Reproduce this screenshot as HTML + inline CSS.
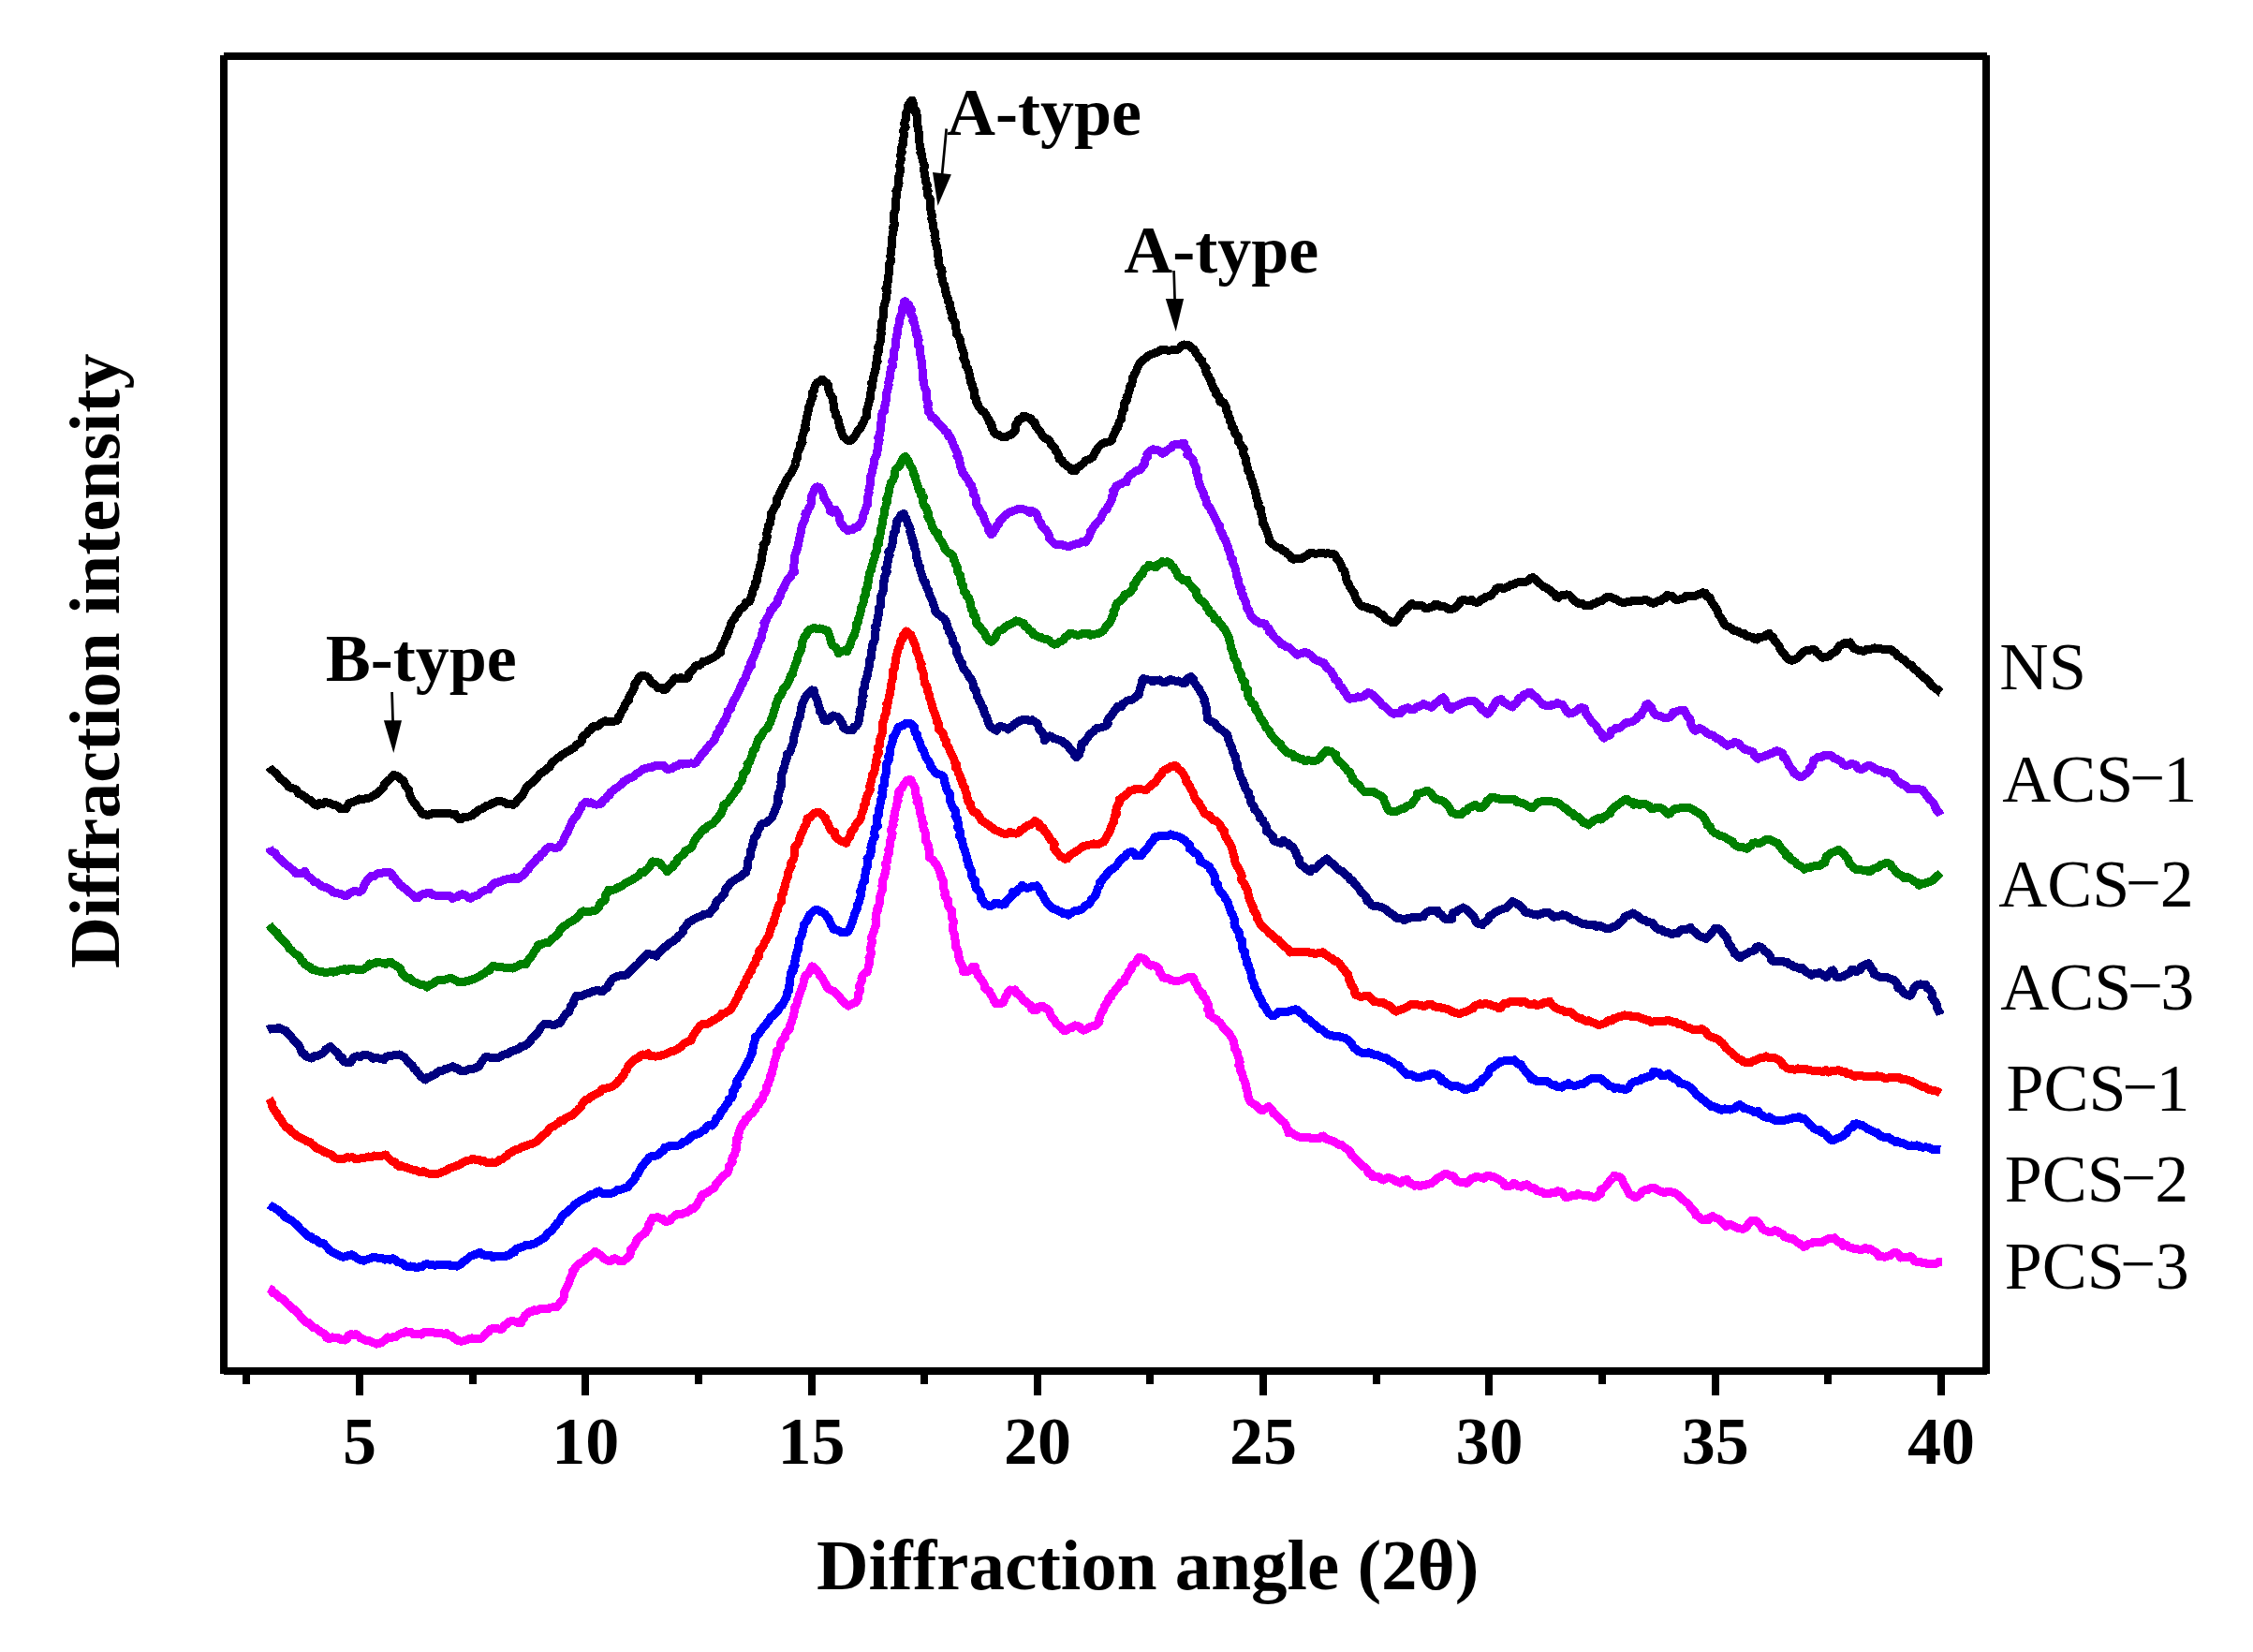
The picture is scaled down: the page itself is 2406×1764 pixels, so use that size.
<!DOCTYPE html>
<html lang="en"><head><meta charset="utf-8"><title>XRD diffraction patterns</title>
<style>
html,body{margin:0;padding:0;background:#fff;}
body{width:2406px;height:1764px;overflow:hidden;}
svg{display:block;}
.b{font-family:"Liberation Serif","Times New Roman",Times,serif;font-weight:bold;fill:#000;}
.r{font-family:"Liberation Serif","Times New Roman",Times,serif;font-weight:normal;fill:#000;}
.c{fill:none;stroke-width:9;stroke-linejoin:round;stroke-linecap:butt;}
</style></head><body>
<svg width="2406" height="1764" viewBox="0 0 2406 1764">
<rect x="0" y="0" width="2406" height="1764" fill="#ffffff"/>
<g id="curves" shape-rendering="crispEdges">
<polyline class="c" stroke="#000000" points="287.4,819.0 289.1,821.5 291.7,823.2 293.9,825.1 296.1,827.2 297.8,829.8 299.9,831.9 302.5,833.6 304.8,835.5 306.9,837.5 308.4,840.5 311.4,841.4 314.5,842.2 317.1,843.6 318.3,847.2 321.3,848.2 323.9,849.7 326.4,851.4 328.4,853.7 331.8,854.1 333.6,856.9 335.8,858.9 338.8,860.2 341.4,857.6 344.7,858.6 347.4,856.4 350.4,857.2 353.4,857.9 356.0,859.7 359.2,859.8 361.7,861.6 363.8,863.9 366.4,863.8 369.5,863.7 371.1,860.9 372.4,857.8 375.5,856.9 378.3,855.9 381.1,854.8 383.6,853.0 386.6,853.2 389.6,853.0 392.6,852.7 395.2,851.8 397.7,850.3 400.2,848.6 403.0,847.5 404.9,845.3 407.0,843.3 409.4,841.3 410.0,838.1 412.2,836.0 414.0,833.6 416.6,832.0 418.3,829.9 420.2,827.4 422.6,828.3 425.1,829.0 426.8,831.4 429.6,832.8 431.7,834.9 432.4,837.9 434.0,840.5 436.2,842.7 437.0,845.7 437.3,848.9 438.7,851.5 440.1,854.2 441.9,856.6 444.1,858.7 445.1,861.6 447.2,863.7 449.2,866.0 450.4,869.0 453.6,869.5 456.3,870.6 459.2,869.5 462.1,868.7 465.1,868.2 468.1,868.3 471.1,868.7 474.1,868.4 477.1,868.8 480.1,868.7 482.9,869.3 486.3,869.4 488.0,872.2 490.2,874.4 493.1,874.3 495.5,872.3 498.8,872.6 501.7,871.6 504.5,870.7 506.6,868.1 509.5,867.1 511.5,864.6 514.5,863.8 517.0,862.2 519.5,860.4 522.6,859.9 525.0,858.0 527.9,857.0 530.5,855.8 533.5,855.2 536.4,855.9 539.2,857.2 541.8,858.8 545.0,858.6 547.8,859.5 550.3,857.9 551.9,855.2 554.1,853.2 556.1,850.9 558.2,848.7 559.4,845.9 560.9,843.3 562.4,840.7 564.3,838.3 567.0,836.7 569.2,834.7 571.2,832.4 573.6,830.6 575.3,828.0 577.4,825.9 579.9,824.2 582.5,822.6 584.4,820.2 587.2,818.8 588.5,815.9 590.4,813.5 592.9,811.7 595.0,809.6 597.9,808.5 599.8,806.0 602.6,804.8 604.9,802.8 607.8,801.8 610.2,799.9 613.0,798.7 614.9,796.2 617.1,794.2 620.0,792.9 621.7,790.4 621.9,786.9 624.2,784.8 627.0,783.3 628.3,780.5 631.2,779.3 632.6,776.1 635.7,775.3 639.0,775.3 641.1,772.8 643.7,771.2 646.6,769.8 649.7,770.9 652.7,770.9 655.6,770.2 657.4,769.9 660.0,768.9 660.4,765.6 662.5,763.4 663.2,760.3 665.2,758.0 666.6,755.3 667.5,752.5 669.1,749.9 671.4,747.7 671.6,744.5 673.0,741.8 674.9,739.4 676.0,736.6 677.5,734.0 677.6,730.7 679.6,728.3 681.4,725.9 682.3,723.2 684.6,721.5 687.7,721.6 690.4,722.1 692.6,723.8 694.3,726.3 695.7,729.1 698.5,730.5 700.9,732.3 702.9,734.8 706.5,734.5 708.4,736.5 711.4,736.0 712.9,733.2 714.7,730.8 717.3,729.2 718.9,726.4 720.9,723.9 724.6,724.4 726.9,723.7 729.5,724.5 732.4,725.0 735.1,723.5 735.0,719.8 737.4,717.8 739.6,715.7 741.2,713.3 743.1,710.8 746.7,710.9 748.9,708.8 750.9,706.2 754.3,706.0 756.8,704.4 759.6,703.2 762.2,701.8 764.7,700.2 766.7,697.8 769.8,696.6 769.4,693.1 770.7,690.4 771.9,687.6 773.6,685.1 774.2,682.1 776.2,679.6 776.6,676.6 778.5,674.1 778.8,671.0 780.4,668.4 780.7,665.2 782.5,662.8 784.6,660.5 785.5,657.6 787.7,655.4 789.1,652.8 790.6,650.0 793.7,648.8 795.4,646.3 796.5,643.3 800.3,642.6 801.7,639.8 802.2,636.7 803.4,633.9 803.9,630.9 804.9,628.1 806.9,625.6 806.4,622.4 808.8,619.9 808.4,616.7 809.6,613.9 809.8,610.9 810.8,608.0 811.5,605.1 812.2,602.2 813.1,599.3 813.6,596.4 813.4,593.2 815.0,590.5 814.7,587.4 816.0,584.6 815.0,581.3 818.2,578.9 818.0,575.8 819.3,573.0 818.6,569.8 819.3,566.9 820.3,564.1 820.7,561.1 822.8,558.5 822.7,555.4 823.7,552.5 823.1,549.3 824.5,546.6 826.2,544.0 827.5,541.3 829.3,538.8 829.5,535.6 829.8,532.5 832.0,530.2 832.5,527.2 834.1,524.6 835.0,521.7 836.7,519.2 838.3,516.7 838.9,513.6 840.9,511.2 842.1,508.4 844.2,506.2 845.6,503.6 847.0,501.0 848.3,498.2 849.5,495.5 849.6,492.3 851.2,489.7 851.6,486.7 852.0,483.7 853.0,480.9 854.4,478.1 854.2,474.9 857.1,472.7 856.8,469.4 856.8,466.3 857.8,463.5 858.3,460.5 860.4,458.0 859.6,454.8 860.7,451.9 860.8,448.9 861.5,446.0 862.1,443.0 862.8,440.1 863.8,437.2 863.8,434.2 865.4,431.5 865.6,428.5 867.1,425.8 868.2,423.0 867.1,419.5 869.3,417.1 869.9,414.1 870.8,411.3 872.5,408.8 875.4,407.4 877.4,405.5 878.9,405.2 880.2,407.4 883.0,409.1 884.6,411.6 884.7,414.9 885.6,417.7 886.4,420.6 888.2,423.2 889.7,425.9 889.5,429.1 890.4,431.9 890.3,435.1 890.8,438.0 892.4,440.7 892.6,443.8 894.6,446.3 895.7,449.1 896.0,452.2 896.0,455.3 897.9,457.9 898.4,460.8 899.4,463.7 900.6,466.4 902.6,468.0 904.6,469.9 907.4,470.6 909.5,469.7 911.3,467.8 913.1,465.4 914.6,462.8 916.0,460.2 918.3,458.1 919.7,455.4 920.9,452.6 922.6,450.2 923.2,447.4 925.6,444.9 925.0,441.7 925.0,438.7 926.6,435.9 927.0,432.9 927.9,430.1 928.6,427.1 929.8,424.3 929.5,421.2 930.0,418.2 930.3,415.3 931.6,412.4 930.6,409.2 932.4,406.5 932.8,403.5 933.1,400.5 934.3,397.7 934.6,394.7 936.0,391.9 935.1,388.7 937.1,386.0 936.3,382.8 937.0,379.9 937.5,376.9 938.7,374.1 937.6,370.8 938.8,368.0 940.2,365.2 940.0,362.1 940.2,359.1 941.3,356.3 940.6,353.1 941.9,350.3 942.0,347.3 941.4,344.2 942.9,341.3 943.2,338.3 943.5,335.4 943.6,332.4 943.5,329.3 944.2,326.4 945.1,323.5 946.1,320.6 946.5,317.6 946.6,314.6 947.7,311.7 945.9,308.4 947.7,305.7 947.5,302.6 948.5,299.7 948.5,296.7 948.9,293.7 949.5,290.8 949.4,287.7 949.5,284.7 949.7,281.7 951.5,278.9 951.1,275.9 950.9,272.8 951.8,269.9 951.2,266.8 952.2,263.9 952.2,260.9 953.0,257.9 952.7,254.9 953.0,251.9 953.0,248.9 954.2,246.0 953.7,242.9 955.3,240.1 955.0,237.0 954.3,234.0 954.6,231.0 954.5,227.9 956.0,225.1 956.2,222.1 956.5,219.1 957.0,216.1 956.8,213.1 957.2,210.1 957.6,207.2 956.9,204.1 958.7,201.2 959.2,198.3 960.1,195.4 959.2,192.2 959.6,189.3 960.7,186.4 961.3,183.4 961.4,180.4 960.8,177.3 961.1,174.3 962.1,171.4 962.1,168.4 961.7,165.4 963.2,162.5 962.6,159.4 962.9,156.4 964.7,153.6 963.9,150.5 964.7,147.6 965.7,144.7 965.0,141.6 964.9,138.5 967.1,135.8 965.7,132.6 966.2,129.6 967.4,126.7 967.3,123.7 967.6,120.7 969.0,118.0 969.9,115.1 969.9,112.0 971.8,109.5 973.3,107.6 974.1,107.0 975.1,109.5 975.5,112.5 976.1,115.5 978.1,118.0 977.9,121.1 979.4,123.9 979.2,127.0 979.3,130.0 979.1,133.0 980.4,135.9 980.9,138.8 981.1,141.8 981.5,144.8 981.9,147.8 981.8,150.8 982.1,153.8 982.3,156.8 983.3,159.7 982.9,162.8 984.7,165.6 984.8,168.6 985.3,171.5 986.4,174.4 987.7,177.2 986.4,180.5 986.9,183.4 987.8,186.3 987.9,189.4 988.8,192.3 988.9,195.3 990.5,198.0 989.5,201.3 991.1,204.0 990.1,207.2 991.7,210.0 993.3,212.8 993.3,215.8 993.0,218.9 993.6,221.8 994.0,224.8 994.5,227.8 995.6,230.7 994.7,233.8 995.8,236.7 996.7,239.6 996.7,242.6 997.2,245.6 998.8,248.4 997.9,251.5 999.1,254.4 998.9,257.5 999.3,260.4 1000.4,263.3 1000.9,266.2 1001.5,269.2 1001.4,272.3 1002.2,275.2 1002.0,278.2 1002.4,281.2 1003.1,284.1 1005.3,286.8 1006.1,289.7 1004.9,293.0 1005.9,295.8 1006.7,298.7 1007.0,301.7 1008.5,304.5 1009.2,307.3 1009.4,310.4 1010.6,313.2 1011.0,316.2 1012.5,318.9 1012.7,321.9 1014.6,324.5 1014.0,327.8 1015.6,330.5 1015.8,333.5 1017.8,336.1 1016.8,339.5 1018.5,342.1 1020.3,344.7 1020.1,347.9 1020.9,350.8 1021.3,353.8 1021.6,356.8 1023.8,359.3 1025.0,362.1 1025.9,365.0 1026.1,368.0 1027.0,370.9 1027.8,373.8 1029.1,376.5 1029.2,379.6 1028.9,382.8 1030.5,385.5 1031.9,388.2 1031.8,391.4 1034.0,393.9 1034.5,396.8 1035.2,399.7 1035.3,402.8 1036.6,405.6 1036.8,408.7 1038.8,411.2 1038.7,414.3 1040.7,416.9 1040.3,420.1 1040.3,423.2 1042.5,425.7 1042.5,428.9 1044.2,431.5 1044.9,434.4 1046.9,436.3 1048.8,438.7 1051.3,440.4 1053.0,442.8 1054.0,445.6 1056.1,448.0 1056.5,451.0 1059.1,453.2 1058.9,456.5 1060.5,459.1 1061.3,461.9 1063.6,463.7 1066.6,464.4 1069.0,466.2 1071.8,466.6 1074.7,466.6 1077.2,464.9 1080.2,464.2 1082.2,461.9 1084.3,459.5 1084.1,456.1 1084.9,453.2 1087.0,450.9 1087.8,447.7 1091.2,447.1 1092.8,444.1 1095.8,444.9 1097.9,446.1 1101.0,446.8 1102.5,449.5 1105.2,451.0 1105.7,454.1 1107.2,456.7 1109.3,459.0 1111.1,461.4 1112.3,464.0 1114.0,466.3 1116.4,468.1 1119.4,469.1 1121.4,471.4 1122.4,474.6 1124.8,476.4 1126.9,478.6 1127.4,481.7 1129.7,483.9 1130.8,486.8 1131.0,490.0 1134.3,491.4 1135.1,494.6 1138.0,495.8 1140.0,498.1 1142.7,499.6 1144.3,502.3 1146.9,502.9 1148.8,502.5 1149.7,499.6 1152.6,498.2 1155.0,496.3 1157.2,494.6 1159.1,491.9 1162.0,490.9 1164.8,489.8 1167.0,487.8 1168.4,485.4 1169.6,482.7 1171.6,480.2 1172.8,477.7 1174.5,475.9 1176.7,473.9 1179.5,472.8 1182.4,472.1 1185.3,471.6 1187.8,469.9 1188.2,466.7 1189.6,464.0 1190.9,461.3 1191.7,458.4 1193.9,456.1 1194.6,453.1 1195.3,450.2 1197.5,447.8 1197.8,444.7 1198.2,441.7 1199.1,438.8 1200.8,436.2 1201.0,433.1 1200.8,430.0 1203.3,427.6 1202.9,424.3 1205.0,421.8 1205.1,418.7 1206.4,416.0 1206.4,412.8 1208.6,410.4 1209.3,407.4 1209.0,404.2 1210.9,401.7 1211.8,398.8 1213.5,396.3 1214.4,393.4 1215.7,390.7 1217.0,388.0 1218.9,385.6 1221.4,383.9 1223.7,382.1 1226.0,380.0 1228.6,378.6 1231.5,377.7 1234.2,376.5 1237.0,375.7 1239.5,373.5 1242.7,373.7 1245.6,373.9 1248.5,374.3 1251.5,373.7 1254.4,373.4 1257.3,373.3 1259.9,371.8 1261.8,369.3 1264.6,368.0 1267.4,368.9 1270.5,368.9 1272.4,371.5 1274.9,373.0 1276.5,375.4 1277.7,378.3 1280.0,380.3 1280.7,383.4 1283.8,385.0 1284.1,388.3 1285.8,390.7 1288.1,393.0 1287.7,396.5 1288.8,399.3 1290.7,401.7 1291.9,404.5 1293.5,407.0 1294.0,410.1 1295.2,412.8 1296.3,415.6 1298.7,417.9 1298.5,421.2 1301.4,423.1 1302.3,425.9 1303.0,429.3 1306.7,429.9 1308.4,432.4 1309.4,435.3 1309.5,438.4 1311.3,440.9 1311.7,443.9 1313.5,446.5 1313.3,449.7 1315.3,452.2 1315.4,455.4 1318.0,457.6 1318.0,460.8 1319.4,463.5 1321.8,465.8 1322.9,468.5 1322.6,471.9 1324.8,474.2 1325.6,477.2 1328.2,479.3 1327.2,482.8 1328.3,485.6 1329.6,488.4 1330.8,491.2 1330.7,494.3 1331.9,497.1 1332.2,500.1 1332.9,503.0 1334.9,505.5 1335.2,508.6 1336.2,511.4 1337.7,514.1 1337.9,517.2 1339.2,519.9 1340.1,522.8 1340.4,525.8 1341.5,528.6 1341.9,531.6 1342.9,534.5 1344.1,537.2 1343.6,540.5 1346.4,542.8 1346.5,545.9 1346.9,548.9 1347.9,551.7 1348.4,554.7 1348.1,557.9 1350.2,560.5 1351.2,563.3 1352.4,566.0 1353.4,568.9 1354.4,571.7 1355.3,574.6 1355.5,577.7 1357.5,579.8 1359.8,581.4 1362.1,583.5 1364.7,585.0 1368.0,585.3 1369.9,588.0 1372.9,589.0 1374.7,591.5 1377.5,592.9 1378.8,595.9 1381.6,597.4 1384.7,596.3 1387.7,596.3 1390.7,596.4 1393.0,594.3 1395.7,593.1 1398.0,591.0 1400.9,590.2 1403.9,591.1 1406.9,591.0 1409.9,590.7 1412.9,590.9 1415.9,591.1 1418.8,590.7 1421.6,591.8 1424.4,591.6 1426.6,593.7 1427.6,596.8 1429.7,598.9 1431.2,601.3 1432.5,604.0 1433.1,607.0 1435.9,609.2 1436.3,612.2 1437.2,615.0 1437.8,618.0 1438.4,621.1 1440.4,623.4 1441.3,626.3 1442.8,628.9 1444.6,631.3 1446.5,633.8 1447.1,636.8 1448.1,639.6 1449.9,642.1 1451.2,644.9 1453.7,646.8 1456.5,647.9 1459.6,648.3 1462.2,649.9 1465.2,650.4 1468.1,651.2 1470.9,652.3 1472.7,655.0 1475.7,656.0 1478.1,657.8 1479.6,660.8 1482.3,662.2 1485.0,663.6 1487.2,665.0 1489.9,664.7 1491.6,662.2 1493.7,660.0 1494.8,657.1 1496.8,654.8 1498.5,652.3 1501.5,651.1 1503.3,648.6 1505.3,646.4 1507.8,644.5 1510.8,646.6 1513.8,646.2 1516.8,646.3 1519.7,647.2 1521.9,649.6 1524.8,649.7 1527.1,648.4 1530.1,647.8 1532.2,645.4 1535.2,645.6 1537.8,647.5 1541.0,647.2 1543.8,648.3 1546.3,650.3 1549.3,651.0 1551.9,649.8 1554.6,648.9 1556.2,646.3 1558.8,644.6 1559.7,641.3 1562.8,640.6 1565.4,641.0 1568.3,641.6 1571.7,640.4 1574.1,642.7 1576.9,643.3 1579.8,642.9 1581.6,640.2 1584.5,639.2 1586.9,637.2 1590.0,636.8 1592.7,635.7 1594.1,633.2 1596.6,631.3 1597.8,628.5 1600.4,627.3 1603.0,627.5 1605.9,628.8 1608.9,627.1 1611.4,626.2 1613.5,624.2 1616.9,624.0 1619.2,622.1 1622.1,621.7 1625.0,621.9 1627.8,621.7 1630.3,621.0 1632.8,619.4 1634.7,617.2 1636.9,616.6 1639.0,618.0 1640.9,620.3 1643.2,622.2 1645.6,624.0 1647.6,626.2 1650.6,627.2 1653.0,628.9 1655.6,630.5 1657.6,632.7 1660.4,634.2 1661.6,637.3 1664.3,638.2 1666.6,635.8 1669.7,635.9 1672.5,634.9 1675.5,635.1 1677.7,637.1 1679.5,639.6 1681.4,641.9 1684.1,643.2 1686.7,645.0 1690.0,644.6 1692.5,646.7 1695.7,647.0 1698.7,646.5 1701.4,644.8 1704.2,643.9 1706.8,642.3 1710.0,641.9 1712.4,640.1 1714.8,638.1 1717.7,637.1 1720.7,637.8 1723.1,639.2 1726.1,639.9 1728.5,641.7 1731.3,643.0 1734.4,643.6 1737.4,642.8 1740.4,642.9 1743.3,641.6 1746.3,641.7 1749.4,641.9 1752.4,641.8 1755.2,640.7 1758.0,640.7 1760.5,641.8 1762.9,643.4 1765.3,644.2 1767.9,643.5 1770.4,641.8 1773.6,641.6 1775.5,638.9 1778.9,638.6 1780.5,635.4 1783.2,636.4 1786.4,636.7 1788.1,639.5 1790.5,640.9 1792.8,640.2 1795.6,639.7 1798.4,638.7 1800.7,636.1 1803.9,636.6 1806.8,636.2 1810.0,636.4 1812.7,635.0 1815.7,634.4 1818.2,632.7 1821.2,633.2 1822.1,636.5 1825.6,637.6 1826.9,640.3 1827.9,643.4 1829.9,645.6 1831.6,648.1 1833.2,650.7 1834.5,653.4 1835.1,656.5 1837.3,658.7 1838.8,661.3 1840.3,663.9 1841.3,666.7 1843.7,668.3 1846.6,669.4 1849.1,671.1 1851.3,673.2 1854.4,673.5 1857.1,674.8 1859.8,676.3 1863.0,676.4 1865.0,679.1 1868.0,679.7 1871.1,680.2 1873.3,682.1 1876.4,683.0 1878.9,680.0 1881.7,680.1 1884.7,679.6 1886.8,677.5 1889.3,676.3 1890.5,679.1 1893.6,680.3 1894.6,683.4 1896.4,685.7 1898.5,687.9 1900.3,690.4 1900.9,693.5 1903.0,695.7 1905.2,697.9 1906.7,700.5 1908.7,702.6 1910.8,704.4 1913.5,705.2 1915.6,704.7 1918.0,703.5 1920.6,701.9 1922.5,699.5 1924.7,697.5 1926.9,695.5 1929.5,694.2 1932.1,694.4 1935.1,693.6 1938.2,693.8 1939.8,696.6 1942.1,698.3 1944.1,700.6 1946.3,702.3 1948.3,701.6 1951.1,701.4 1954.1,700.6 1955.9,697.8 1958.7,696.7 1961.3,694.9 1962.7,692.1 1964.4,689.5 1967.3,688.3 1969.6,686.8 1972.5,687.1 1975.9,686.0 1977.5,689.6 1979.3,692.0 1982.2,693.2 1985.0,694.4 1987.4,694.8 1990.4,695.3 1993.1,693.7 1996.0,693.0 1999.1,693.0 2002.1,691.9 2005.0,693.0 2008.1,692.4 2011.0,693.6 2014.0,693.5 2017.0,693.6 2019.9,693.7 2021.9,695.9 2024.7,697.2 2026.0,700.3 2028.9,701.6 2031.2,703.5 2034.2,704.6 2035.8,707.3 2037.9,709.5 2041.3,710.2 2043.0,712.8 2045.0,715.0 2047.7,716.5 2049.4,719.1 2051.9,720.7 2053.7,723.2 2056.6,724.5 2058.6,726.8 2060.8,728.9 2062.1,731.8 2064.9,733.3 2067.0,735.4 2070.0,736.5 2071.7,739.2 2072.2,739.4"/>
<polyline class="c" stroke="#8000ff" points="287.4,905.0 288.6,907.9 291.2,909.6 294.1,911.0 295.5,913.8 297.5,916.0 300.2,917.6 301.9,920.1 304.3,922.0 306.5,924.0 309.1,925.6 311.2,927.7 313.6,929.5 315.4,932.1 318.0,933.0 320.4,932.8 323.3,932.4 325.7,930.3 327.1,933.3 328.9,935.6 331.5,937.3 333.8,939.3 335.6,941.6 338.5,942.2 340.9,944.3 343.3,946.3 346.1,947.1 349.1,947.9 351.7,949.2 354.1,951.1 356.4,953.1 359.6,953.6 362.4,954.3 365.3,955.0 368.0,956.6 370.8,956.2 372.8,954.1 375.5,952.7 378.3,951.5 381.3,952.0 384.0,952.4 386.4,950.6 388.1,948.1 389.0,945.1 390.5,942.5 392.1,939.9 394.4,938.1 396.3,935.6 399.6,935.8 402.0,933.6 404.7,932.4 407.8,932.1 410.7,931.5 413.3,931.5 415.9,931.2 418.3,932.9 419.2,936.2 422.0,937.7 423.3,940.5 425.8,942.3 427.2,945.1 429.9,946.7 432.1,948.7 434.8,950.3 436.7,952.6 438.9,954.4 441.3,956.0 443.2,958.9 446.3,958.7 448.5,956.4 451.0,954.9 454.2,954.4 456.5,953.1 459.2,953.2 461.5,955.2 464.5,956.0 466.8,956.6 469.4,956.9 472.5,956.8 475.2,956.6 478.2,956.3 481.1,957.0 483.4,959.4 486.0,958.1 488.9,957.4 491.0,955.3 493.4,954.7 495.9,955.7 498.6,957.0 500.8,959.0 503.4,959.2 505.5,957.2 508.5,956.4 511.3,955.3 513.4,952.9 516.1,951.6 518.7,950.1 522.1,949.8 523.9,947.1 526.2,945.0 528.4,942.7 531.5,942.2 534.3,941.2 537.0,939.8 540.0,939.1 542.8,938.2 545.8,938.4 548.7,936.9 551.2,939.0 553.8,938.3 555.4,936.6 557.9,935.0 560.5,933.2 561.7,930.3 564.3,928.5 565.3,925.5 567.6,923.5 569.7,921.3 572.0,919.4 573.1,916.2 576.6,915.5 577.6,912.3 580.5,910.9 581.8,908.1 584.1,906.2 586.2,904.4 588.9,904.5 591.7,905.4 594.3,905.5 596.9,904.3 598.6,901.7 600.9,899.7 601.9,896.9 602.9,894.1 604.1,891.3 606.1,888.9 607.2,886.1 608.4,883.4 609.6,880.7 610.5,877.7 612.5,875.4 613.9,872.8 616.2,870.7 617.6,868.0 618.6,865.1 620.7,862.9 621.5,859.8 623.8,857.8 625.7,856.1 628.3,857.3 631.5,856.9 634.1,858.8 637.1,859.1 639.8,858.9 642.6,857.8 643.7,854.7 646.6,853.3 648.2,850.6 650.9,849.1 652.0,846.0 654.5,844.2 656.8,842.3 659.6,840.9 661.8,838.8 664.2,837.1 665.9,834.4 668.7,833.1 671.1,831.3 674.0,830.3 676.8,829.1 678.8,826.7 681.6,825.4 684.0,823.6 686.3,821.6 689.1,820.7 692.0,819.8 695.1,819.9 697.8,818.3 700.6,817.2 703.6,817.2 706.0,817.0 709.0,817.5 710.7,820.1 712.8,821.6 715.4,821.1 718.3,820.2 720.7,818.4 723.6,817.6 726.1,815.5 729.3,816.1 732.2,815.4 735.2,815.2 738.2,814.9 741.1,815.3 743.4,814.4 745.0,812.2 746.6,809.7 748.4,807.3 749.9,804.7 752.3,802.8 753.9,800.2 756.0,798.1 757.6,795.5 759.9,793.6 761.9,791.4 763.6,788.9 764.5,786.0 765.4,783.1 768.1,781.1 768.3,777.8 770.2,775.4 771.9,773.0 773.1,770.2 774.9,767.8 776.1,765.0 777.0,762.1 777.3,758.9 780.5,757.1 780.9,753.9 782.4,751.3 783.1,748.4 785.0,745.9 786.5,743.3 787.9,740.7 789.0,737.9 790.4,735.2 791.2,732.3 793.1,729.9 793.6,726.8 796.1,724.6 796.6,721.6 797.7,718.8 799.1,716.1 799.4,713.0 802.6,711.1 801.8,707.5 803.1,704.8 804.4,702.1 805.8,699.4 806.7,696.5 807.8,693.8 809.2,691.1 809.6,688.0 810.6,685.2 812.5,682.7 813.5,679.9 813.8,676.8 814.3,673.8 815.8,671.1 816.4,668.2 815.8,664.8 818.3,662.5 819.1,659.6 821.0,657.1 822.3,654.6 822.8,651.4 825.6,649.6 826.8,646.8 829.6,644.9 830.7,642.0 830.9,638.8 833.2,636.6 833.7,633.4 834.8,630.7 836.8,628.3 837.9,625.5 839.2,622.8 840.4,620.0 842.2,617.6 844.6,615.6 845.6,612.7 848.7,610.5 847.0,607.0 847.8,604.1 848.1,601.1 848.2,598.1 848.2,595.0 849.1,592.1 850.4,589.3 851.2,586.4 852.1,583.6 852.8,580.6 853.1,577.6 853.7,574.7 854.3,571.8 855.1,568.9 855.6,565.9 856.1,562.9 857.0,560.0 858.5,557.4 859.5,554.5 860.2,551.6 859.9,548.3 862.7,546.1 863.2,543.1 865.4,540.7 866.2,537.8 866.0,534.6 866.7,531.7 866.9,528.6 868.7,526.0 869.3,523.1 870.8,520.6 872.9,519.8 875.4,520.5 877.0,523.1 878.3,525.8 879.5,528.6 879.7,531.8 881.8,534.2 883.2,536.8 885.0,539.3 885.9,542.2 886.4,545.3 888.6,547.1 890.5,545.7 891.9,544.1 892.6,545.1 894.1,547.5 895.8,550.1 896.6,552.9 896.8,556.0 897.8,558.8 899.9,561.1 901.5,563.6 904.1,565.3 905.8,566.7 907.3,566.0 910.5,565.6 912.6,563.4 915.9,562.9 917.7,560.2 919.7,558.0 920.9,555.3 921.6,552.4 921.9,549.4 923.5,546.7 924.2,543.8 925.1,540.9 926.7,538.2 926.3,535.0 926.3,532.0 927.2,529.1 928.1,526.2 927.9,523.1 928.6,520.2 929.2,517.3 929.4,514.3 930.0,511.3 929.9,508.3 931.1,505.4 931.5,502.5 932.2,499.5 933.0,496.6 933.5,493.7 933.7,490.6 935.2,487.9 936.3,485.1 936.4,482.0 937.8,479.2 937.1,476.1 938.4,473.3 939.1,470.3 937.7,467.1 939.6,464.3 939.9,461.3 940.5,458.4 940.6,455.4 940.5,452.3 941.9,449.5 941.6,446.4 941.6,443.4 942.2,440.4 944.9,438.0 944.2,434.7 945.7,432.0 945.8,429.0 946.6,426.0 947.0,423.1 946.5,419.9 947.8,417.1 948.3,414.2 949.1,411.3 948.9,408.2 949.4,405.2 950.5,402.4 950.5,399.3 951.1,396.4 951.2,393.3 953.8,390.7 953.0,387.6 952.9,384.5 955.0,381.8 954.3,378.7 954.5,375.6 955.5,372.8 956.7,369.9 956.4,366.8 956.2,363.8 957.2,360.9 957.6,357.9 959.0,355.1 958.3,352.0 959.1,349.0 960.2,346.2 960.2,343.1 960.7,340.2 962.0,337.4 963.1,334.6 963.5,331.6 963.8,328.6 965.1,325.8 965.0,323.1 966.6,321.6 967.6,324.9 970.9,325.4 971.2,328.5 973.6,330.8 972.3,334.2 973.7,336.9 975.3,339.6 974.8,342.8 976.6,345.5 977.2,348.4 977.4,351.5 979.1,354.2 978.8,357.3 980.5,360.0 981.1,363.0 980.6,366.1 980.7,369.1 982.7,371.8 982.7,374.9 982.4,377.9 983.4,380.8 983.9,383.8 984.8,386.7 984.6,389.7 984.8,392.7 985.3,395.7 985.7,398.7 985.3,401.7 985.6,404.7 986.6,407.6 986.9,410.6 987.1,413.6 989.0,416.4 989.3,419.4 989.3,422.4 989.6,425.4 990.1,428.3 991.7,431.1 990.6,434.3 991.6,437.2 991.7,440.2 993.7,442.4 994.8,445.5 998.0,446.6 999.8,449.0 1001.4,451.6 1003.7,453.6 1005.5,455.9 1007.8,457.9 1009.5,460.4 1012.1,462.1 1012.6,465.6 1015.3,467.2 1016.3,470.0 1017.4,472.8 1018.3,475.7 1020.0,478.2 1020.8,481.1 1022.6,483.7 1021.9,487.0 1024.3,489.4 1024.3,492.5 1025.7,495.3 1025.8,498.4 1027.1,501.1 1027.5,504.2 1029.7,506.5 1031.2,509.1 1032.9,511.4 1034.4,513.9 1035.5,516.8 1037.8,518.8 1038.3,521.8 1040.0,524.4 1039.2,527.8 1041.6,530.2 1042.6,533.0 1042.5,536.2 1042.9,539.3 1044.9,541.8 1046.2,544.5 1047.0,547.4 1049.8,549.4 1050.3,552.4 1051.5,555.2 1052.3,558.1 1054.1,560.6 1055.7,563.2 1055.5,566.5 1057.6,568.8 1058.5,570.8 1060.3,569.5 1061.2,566.6 1063.4,564.5 1064.3,561.4 1066.6,559.4 1067.4,556.3 1069.9,554.4 1071.5,551.9 1074.0,550.0 1076.0,548.4 1078.4,546.8 1081.2,545.9 1084.0,544.8 1086.7,543.6 1089.7,543.2 1092.3,543.7 1095.2,544.5 1097.7,545.6 1099.8,547.6 1102.2,545.4 1104.5,546.9 1106.7,548.1 1108.0,550.8 1108.4,553.9 1109.9,556.5 1111.9,558.8 1112.5,562.0 1114.7,564.1 1117.0,566.1 1118.7,568.6 1120.3,571.2 1120.4,574.6 1122.4,576.9 1124.6,579.1 1126.7,581.1 1129.5,582.0 1132.6,581.2 1135.5,582.3 1138.5,583.1 1141.7,583.5 1144.6,582.4 1147.4,581.3 1150.3,580.4 1153.3,580.0 1155.9,578.3 1159.3,579.0 1160.8,576.3 1162.6,573.9 1164.0,571.2 1164.0,567.9 1166.3,565.6 1167.7,563.0 1169.4,560.6 1171.2,558.2 1173.5,556.2 1175.5,553.9 1176.4,550.9 1177.9,548.3 1179.5,545.8 1182.0,543.8 1183.1,540.9 1184.8,538.5 1186.2,535.8 1187.5,533.1 1187.6,530.0 1189.5,527.4 1188.5,524.0 1191.3,521.8 1191.9,519.0 1194.4,517.6 1197.2,516.8 1199.5,515.0 1203.0,514.8 1203.6,511.4 1205.3,509.0 1207.5,506.9 1210.1,505.4 1212.2,503.2 1215.2,502.3 1218.2,501.5 1219.7,498.5 1221.6,496.5 1223.0,493.9 1222.8,490.6 1225.4,488.3 1224.9,484.9 1226.9,482.6 1228.9,480.8 1231.6,479.8 1234.6,480.7 1236.9,480.9 1239.6,482.0 1241.4,484.2 1243.9,483.1 1245.8,481.0 1248.4,479.4 1250.9,477.9 1252.9,475.0 1256.1,474.9 1259.1,474.7 1261.7,473.6 1264.8,473.4 1264.5,477.1 1267.0,479.2 1268.9,481.6 1267.8,485.6 1270.9,487.3 1273.0,489.5 1274.5,492.0 1274.8,495.0 1276.2,497.7 1277.5,500.5 1277.7,503.5 1278.1,506.5 1279.9,509.2 1279.9,512.3 1280.4,515.3 1281.3,518.1 1282.6,520.9 1284.0,523.6 1285.2,526.3 1285.5,529.4 1287.3,531.9 1288.1,534.8 1288.6,537.9 1290.4,540.3 1292.4,542.6 1293.4,545.5 1295.2,548.0 1296.2,550.8 1297.7,553.4 1299.2,556.0 1300.2,558.9 1302.5,561.1 1302.2,564.6 1303.6,567.3 1305.5,569.7 1306.0,572.7 1307.9,575.2 1309.1,577.9 1310.1,580.8 1311.2,583.6 1311.7,586.6 1313.2,589.2 1313.9,592.1 1314.2,595.2 1316.8,597.5 1316.5,600.7 1317.8,603.5 1318.9,606.3 1319.7,609.2 1320.2,612.1 1320.6,615.1 1322.0,617.9 1322.6,620.8 1323.0,623.8 1323.6,626.7 1326.1,629.1 1325.4,632.5 1327.3,635.0 1327.7,638.0 1329.3,640.6 1330.5,643.4 1331.1,646.4 1331.6,649.4 1333.7,651.8 1334.7,654.6 1335.7,657.7 1338.1,659.7 1339.8,662.2 1342.7,663.6 1345.2,665.6 1348.5,665.3 1351.4,666.3 1352.4,669.3 1355.1,671.1 1355.4,674.5 1358.3,676.2 1359.6,678.9 1361.7,681.1 1363.9,683.2 1366.4,684.8 1367.8,687.8 1370.9,688.6 1373.3,690.5 1376.4,691.1 1378.7,693.2 1380.8,695.4 1383.2,697.1 1385.3,699.3 1387.9,698.2 1390.7,697.5 1393.5,696.5 1395.9,697.1 1398.2,698.6 1400.8,700.2 1402.6,702.7 1405.0,704.6 1407.9,705.7 1410.6,707.0 1413.6,707.8 1415.5,710.3 1416.5,713.1 1419.2,714.7 1421.5,716.8 1422.9,719.5 1424.5,722.0 1425.4,725.1 1427.8,727.1 1429.9,729.2 1430.3,732.6 1433.3,734.2 1434.7,736.8 1436.0,739.5 1438.1,741.8 1439.3,744.4 1441.2,746.3 1444.0,745.7 1447.0,745.4 1449.7,743.9 1452.9,744.3 1455.9,743.7 1458.3,741.7 1460.8,739.8 1463.8,740.2 1466.0,742.3 1468.1,744.4 1470.4,746.4 1472.6,748.4 1474.5,750.7 1476.2,753.3 1479.1,754.7 1481.3,756.7 1483.3,758.9 1485.5,760.9 1488.1,762.3 1491.3,761.6 1493.3,762.0 1496.2,761.4 1497.0,758.0 1500.3,757.2 1502.4,755.9 1504.7,756.0 1506.9,758.0 1509.9,757.8 1512.0,755.5 1514.7,754.4 1517.6,753.4 1520.1,751.4 1523.0,752.9 1525.7,753.9 1528.3,755.3 1530.5,753.9 1532.2,751.5 1535.1,750.2 1536.8,747.6 1539.2,745.9 1541.1,744.8 1542.9,746.5 1543.7,749.4 1545.3,751.9 1545.9,755.0 1547.9,756.6 1549.9,757.8 1551.3,754.5 1554.6,754.0 1557.2,752.7 1559.8,751.4 1562.6,750.4 1565.4,749.2 1568.3,748.7 1571.3,748.9 1574.1,748.3 1576.3,750.4 1578.4,752.5 1581.0,754.2 1581.9,757.5 1584.8,758.9 1586.7,761.1 1588.7,762.4 1590.3,761.3 1591.6,758.8 1593.7,756.6 1594.8,753.7 1596.7,751.4 1597.9,748.6 1600.1,747.3 1603.4,746.6 1605.2,749.4 1607.8,750.9 1610.3,752.6 1612.6,754.1 1615.1,755.0 1616.5,752.4 1619.4,751.1 1620.7,748.2 1622.1,745.3 1625.8,745.0 1627.2,741.9 1630.1,740.9 1632.4,739.3 1635.0,739.6 1636.9,742.1 1639.4,743.6 1641.7,745.3 1643.2,747.8 1645.4,750.0 1647.4,752.1 1649.9,753.1 1652.8,753.5 1655.7,753.8 1657.8,752.1 1661.1,752.0 1663.3,750.5 1665.4,751.8 1668.5,752.4 1670.4,754.9 1671.9,757.4 1673.3,760.0 1675.6,762.0 1677.6,761.2 1679.9,761.1 1682.5,759.6 1685.0,758.0 1687.2,756.0 1689.8,755.9 1692.2,756.4 1692.9,759.4 1693.7,762.3 1695.9,764.6 1697.4,767.2 1698.8,769.8 1701.1,771.8 1703.3,773.8 1705.3,776.1 1706.2,779.0 1708.3,781.3 1710.8,783.3 1711.2,786.5 1712.8,788.2 1714.0,786.7 1717.0,785.8 1719.9,784.4 1720.1,780.4 1723.3,779.5 1725.5,777.3 1729.0,777.6 1731.5,776.0 1733.8,773.8 1736.2,771.9 1739.2,771.3 1742.4,770.8 1745.0,769.3 1747.6,767.6 1749.0,764.7 1752.6,763.8 1753.5,760.8 1755.1,758.3 1756.8,755.8 1757.5,752.7 1759.6,751.5 1760.8,753.3 1763.4,755.1 1764.6,757.9 1765.7,760.7 1767.4,763.1 1770.1,763.9 1773.0,764.7 1775.7,766.0 1778.6,767.0 1781.2,766.2 1783.4,765.6 1785.6,763.7 1786.7,760.6 1789.8,760.1 1792.3,759.0 1795.3,758.2 1798.3,758.1 1799.9,760.4 1801.1,762.9 1802.6,765.6 1805.0,767.8 1805.0,771.0 1806.0,773.8 1807.5,776.5 1808.6,779.0 1810.2,780.3 1812.6,779.0 1815.0,777.7 1817.5,778.6 1819.9,780.4 1822.3,782.2 1824.6,784.0 1827.5,784.6 1830.3,785.8 1832.4,788.1 1835.5,788.9 1837.7,790.9 1839.8,793.0 1842.5,794.5 1844.8,796.3 1847.1,794.8 1850.0,794.6 1852.2,792.4 1854.7,793.1 1857.3,794.1 1859.0,796.7 1861.2,798.6 1863.6,800.4 1866.6,801.0 1869.4,802.0 1872.1,803.1 1873.1,806.0 1875.4,808.0 1877.2,810.3 1879.6,808.2 1882.7,808.0 1885.4,806.9 1888.3,806.0 1891.0,804.6 1893.9,803.7 1896.4,801.9 1899.0,802.0 1901.4,803.1 1904.0,804.8 1904.2,808.5 1907.1,810.1 1908.3,812.9 1909.6,815.6 1910.9,818.3 1913.1,820.5 1914.9,822.9 1915.9,825.7 1918.4,826.9 1920.6,828.6 1923.2,830.0 1925.6,828.7 1927.8,826.9 1930.3,825.2 1932.4,823.0 1932.7,819.8 1935.5,817.8 1936.2,814.8 1936.5,811.6 1939.4,810.2 1941.6,808.1 1945.0,808.4 1947.4,806.9 1950.1,806.0 1952.9,806.9 1956.1,806.8 1958.3,809.6 1961.1,810.1 1963.4,811.9 1966.2,813.3 1968.0,815.8 1970.5,817.3 1973.0,817.3 1975.6,816.0 1978.7,815.8 1981.7,816.7 1983.2,819.8 1985.8,821.2 1988.3,821.2 1990.8,820.0 1993.2,818.3 1995.9,817.3 1998.7,818.3 2001.2,820.0 2003.7,821.6 2006.5,822.7 2009.4,822.9 2012.1,825.2 2015.2,824.7 2018.0,825.4 2020.6,826.5 2022.9,828.5 2023.9,831.5 2026.0,833.7 2028.5,835.4 2030.9,837.3 2033.8,838.2 2036.3,839.9 2038.3,842.7 2041.6,842.1 2044.6,842.3 2047.5,842.2 2050.3,842.9 2053.4,843.6 2055.2,846.2 2056.8,848.9 2058.8,851.0 2060.4,853.6 2063.0,855.4 2064.9,857.7 2066.0,860.5 2067.4,863.2 2068.5,866.0 2071.1,868.0 2072.2,870.4"/>
<polyline class="c" stroke="#008000" points="287.4,987.5 289.2,990.0 291.0,992.3 293.2,994.5 296.0,996.0 297.0,999.0 299.0,1001.3 301.5,1003.1 303.2,1005.6 305.5,1007.6 307.4,1009.8 308.8,1012.6 311.2,1014.5 313.2,1016.8 315.3,1018.8 318.2,1020.2 320.2,1022.4 321.5,1025.5 324.0,1027.1 325.7,1029.7 328.1,1031.5 331.1,1032.3 332.8,1035.1 335.9,1035.3 338.5,1036.8 341.5,1037.2 344.5,1037.6 347.4,1038.8 350.4,1038.1 353.3,1037.8 356.2,1038.1 359.1,1037.3 361.8,1036.0 364.9,1035.8 367.7,1034.5 371.0,1036.4 373.7,1034.3 376.7,1034.6 379.6,1035.1 382.5,1035.7 385.2,1035.9 388.0,1035.3 390.3,1033.4 393.0,1031.9 394.6,1029.0 398.2,1029.1 400.4,1028.7 403.2,1027.1 406.1,1027.9 408.9,1028.2 411.9,1029.5 414.6,1027.7 417.6,1027.5 419.7,1029.5 422.3,1030.5 424.6,1032.4 427.5,1033.9 428.5,1037.0 429.7,1040.0 432.2,1041.8 434.0,1044.3 437.7,1044.6 439.8,1046.7 441.9,1048.7 444.8,1049.3 447.4,1051.0 450.4,1051.6 453.4,1051.9 456.1,1054.0 458.4,1051.7 461.3,1050.9 463.9,1049.3 466.1,1047.2 469.1,1046.3 472.1,1046.0 475.1,1046.1 478.0,1045.2 481.1,1044.2 484.0,1045.4 486.7,1046.8 489.3,1048.6 492.4,1049.0 495.4,1048.6 498.2,1047.5 501.2,1047.1 504.0,1045.8 506.9,1045.2 509.5,1043.8 512.1,1042.5 514.5,1040.6 517.3,1039.4 519.3,1037.0 522.6,1036.5 524.2,1033.6 526.4,1031.1 529.6,1032.0 532.5,1032.4 535.6,1032.5 538.5,1033.3 541.4,1033.9 544.3,1033.2 547.6,1034.1 550.2,1032.6 553.1,1031.6 555.6,1029.7 558.8,1029.6 562.0,1029.5 563.4,1026.2 565.1,1024.0 567.0,1021.7 568.9,1019.4 570.1,1016.5 572.0,1014.2 573.7,1011.7 574.8,1008.7 578.0,1008.4 580.6,1007.3 583.5,1006.6 586.1,1006.4 588.0,1004.5 589.8,1002.2 592.4,1000.4 594.5,998.3 596.7,996.2 597.9,993.3 600.1,991.2 602.2,989.1 604.8,987.6 607.0,985.6 609.8,984.3 612.3,982.6 614.8,981.0 617.2,979.3 619.1,976.9 620.7,974.2 623.5,972.9 626.6,973.4 629.5,973.9 632.5,972.6 635.4,972.5 637.4,971.1 639.5,969.0 640.2,965.9 641.9,963.4 645.2,962.0 646.7,959.4 646.5,955.7 648.8,953.6 649.9,950.3 653.5,950.4 656.5,949.8 659.0,948.1 661.9,947.0 664.6,945.8 666.8,943.7 669.5,942.2 672.3,941.1 674.9,939.5 677.4,937.9 680.0,936.5 682.4,934.5 684.1,931.6 687.5,931.5 689.5,929.3 692.0,927.7 693.7,925.2 695.2,922.6 696.8,919.8 700.0,920.7 702.7,920.9 705.4,921.8 706.8,924.5 709.1,926.6 711.2,928.6 712.6,930.6 714.1,929.0 716.1,926.9 719.0,925.4 719.9,922.3 722.7,920.7 723.3,917.3 726.0,915.6 728.0,913.4 730.7,911.9 731.7,908.5 734.6,907.3 737.5,905.9 739.4,903.6 740.2,900.5 741.7,897.9 743.2,895.3 744.8,892.8 747.2,890.8 748.8,888.4 750.5,885.8 753.7,885.1 755.4,882.2 758.2,881.0 760.9,879.8 763.0,877.6 764.6,875.2 766.6,873.1 768.3,870.6 770.4,868.3 771.2,865.3 772.5,862.6 772.8,859.3 776.0,857.7 778.1,855.5 779.5,852.9 781.3,850.5 783.2,848.2 784.9,845.6 786.7,843.2 788.5,840.8 788.8,837.6 791.1,835.4 792.6,832.7 793.3,829.7 793.1,826.4 796.1,824.4 797.5,821.8 798.1,818.8 798.0,815.4 800.8,813.4 801.7,810.5 802.7,807.7 803.7,804.9 804.1,801.8 806.9,799.7 807.3,796.6 808.2,793.7 809.3,790.9 810.6,788.3 812.9,786.3 814.2,783.5 815.8,780.9 817.8,778.7 820.3,776.8 821.0,773.8 822.9,771.3 823.4,768.3 824.7,765.6 825.7,762.8 826.4,759.8 827.5,757.0 828.4,754.1 828.8,751.1 830.5,748.5 830.9,745.4 832.9,743.0 834.9,740.7 835.7,737.7 836.7,734.9 839.4,732.9 841.0,730.4 842.0,727.5 843.6,724.9 844.2,721.8 846.6,719.8 847.0,716.7 847.9,713.9 848.8,711.0 849.9,708.2 851.2,705.5 851.8,702.5 852.3,699.6 853.9,696.9 855.6,694.3 856.0,691.3 856.5,688.3 856.8,685.2 858.0,682.5 859.1,679.6 861.3,677.4 862.3,674.5 864.3,672.3 866.6,671.7 869.2,670.2 872.1,671.4 875.2,671.0 878.2,671.4 881.0,672.7 883.7,673.4 884.7,676.1 885.9,678.8 886.3,681.8 887.7,684.5 888.0,687.7 890.2,689.9 892.8,691.6 894.1,694.4 895.5,697.6 898.6,695.7 901.3,694.7 904.9,695.5 905.5,692.0 907.6,689.8 908.3,686.8 909.1,684.0 910.2,681.1 912.1,678.7 912.9,675.8 913.9,672.9 914.4,669.9 914.3,666.8 916.5,664.3 916.3,661.1 917.6,658.4 918.8,655.6 919.1,652.6 919.5,649.6 920.5,646.7 921.9,644.0 922.6,641.1 922.3,637.9 924.3,635.3 924.7,632.3 924.8,629.3 926.8,626.7 926.3,623.5 927.5,620.6 927.6,617.6 928.2,614.6 928.5,611.6 930.3,609.0 930.6,606.0 931.6,603.1 932.2,600.2 933.4,597.4 934.3,594.5 934.0,591.4 936.2,588.8 936.0,585.7 936.0,582.6 938.9,580.2 937.5,576.8 939.4,574.2 940.0,571.2 940.3,568.2 940.7,565.2 941.5,562.3 942.4,559.5 942.3,556.4 943.1,553.5 944.1,550.6 944.1,547.6 944.1,544.5 945.7,541.8 946.2,538.8 947.6,536.0 946.6,532.8 948.1,530.0 948.8,527.1 949.5,524.2 949.8,521.1 950.9,518.3 951.3,515.3 953.6,512.9 954.5,510.0 955.6,507.2 955.6,504.1 956.5,501.1 958.8,498.9 961.2,496.9 962.0,493.8 963.6,491.3 964.8,488.6 966.9,487.7 968.4,489.6 970.0,492.1 971.1,495.0 972.3,497.7 974.2,500.1 975.1,502.9 975.4,506.0 977.2,508.6 977.6,511.6 978.7,514.4 979.5,517.3 980.7,520.0 981.1,523.1 984.1,525.2 983.6,528.6 986.5,530.7 985.5,534.3 986.0,537.3 987.0,540.1 989.4,542.5 989.9,545.4 991.4,548.1 990.8,551.5 992.3,554.1 993.8,556.7 994.9,559.5 995.3,562.6 997.1,565.1 998.1,567.9 1001.7,569.4 1001.8,572.8 1003.1,575.5 1005.2,577.7 1006.7,580.3 1008.2,582.9 1009.0,586.0 1010.9,588.4 1013.3,590.4 1016.1,591.8 1018.0,594.1 1018.3,597.1 1019.7,599.8 1020.6,602.7 1022.1,605.3 1022.4,608.4 1022.9,611.4 1025.4,613.8 1025.4,616.9 1026.9,619.5 1026.3,622.9 1028.6,625.2 1029.0,628.3 1029.1,631.6 1031.9,633.6 1032.1,636.8 1035.0,638.8 1035.3,641.9 1036.6,644.7 1036.9,647.8 1037.4,650.7 1039.6,653.2 1039.3,656.4 1041.8,658.8 1042.4,661.7 1042.4,665.0 1044.5,667.3 1046.6,669.4 1048.2,672.0 1050.3,674.2 1052.0,676.6 1052.9,679.7 1054.8,682.0 1056.5,684.4 1058.6,685.4 1060.4,683.7 1062.5,681.5 1063.9,678.8 1064.9,675.8 1066.9,673.5 1069.9,672.6 1072.3,670.8 1074.5,668.7 1077.1,667.2 1080.1,666.2 1082.7,664.8 1085.0,662.9 1087.7,663.5 1090.4,664.8 1093.4,665.7 1094.6,669.1 1097.7,670.1 1098.9,673.2 1102.1,674.2 1103.1,677.5 1106.3,678.5 1108.7,680.1 1111.4,680.4 1114.2,682.1 1117.1,682.1 1119.8,683.1 1121.8,685.4 1123.9,687.2 1126.1,688.2 1128.8,687.6 1131.2,685.5 1133.9,684.4 1136.2,682.6 1137.7,680.0 1140.7,678.6 1142.4,676.5 1145.0,676.5 1147.8,677.5 1150.8,678.2 1153.7,677.9 1156.3,676.3 1159.3,676.9 1162.3,676.1 1164.6,678.3 1167.4,677.1 1170.5,677.0 1173.4,676.5 1176.1,675.1 1178.5,673.4 1180.1,671.0 1181.4,668.3 1184.1,666.5 1185.4,663.9 1187.1,661.4 1187.6,658.4 1189.5,655.9 1189.0,652.5 1191.2,650.2 1191.7,647.1 1192.9,644.3 1195.4,642.4 1197.6,640.3 1199.9,638.4 1200.8,635.1 1203.8,634.0 1206.8,632.8 1208.4,630.0 1210.6,627.8 1210.3,624.2 1213.0,622.3 1213.8,619.3 1216.2,617.2 1217.3,614.4 1220.2,612.9 1221.0,609.6 1222.6,607.1 1225.5,605.7 1227.0,603.2 1229.4,604.0 1231.9,605.2 1234.5,605.8 1236.1,603.0 1239.1,602.0 1241.0,599.6 1243.9,600.3 1246.6,599.8 1249.3,601.2 1250.8,603.8 1253.2,605.5 1254.5,608.2 1256.3,610.6 1257.3,613.5 1259.0,616.2 1262.0,617.3 1263.8,620.0 1268.0,619.2 1268.9,622.6 1271.2,624.6 1273.2,626.9 1275.0,629.3 1277.4,631.3 1277.3,634.9 1279.4,637.2 1280.5,640.1 1283.3,641.7 1285.9,643.5 1287.5,646.0 1288.7,648.9 1290.9,651.0 1291.7,654.2 1294.8,655.6 1296.4,658.1 1297.2,661.3 1300.9,662.1 1302.1,665.1 1304.4,666.9 1305.9,669.7 1307.9,671.8 1309.0,674.4 1310.7,677.0 1312.0,679.7 1312.5,682.7 1313.8,685.5 1314.1,688.5 1314.4,691.5 1315.7,694.3 1316.7,697.1 1317.3,700.0 1318.0,703.0 1319.8,705.5 1321.3,708.1 1321.6,711.2 1322.2,714.2 1323.7,716.9 1325.4,719.4 1325.8,722.5 1326.5,725.4 1329.3,727.6 1329.0,730.9 1329.0,734.1 1332.5,736.0 1332.4,739.2 1332.6,742.4 1333.7,745.2 1335.8,747.5 1336.4,750.6 1339.7,752.3 1340.4,755.3 1341.0,758.3 1343.2,760.5 1344.8,763.1 1345.4,766.2 1347.6,768.4 1349.1,771.0 1350.8,773.5 1351.7,776.4 1353.9,778.5 1355.8,780.9 1356.9,783.8 1358.8,786.2 1360.7,788.5 1362.6,790.8 1364.9,792.8 1367.7,794.4 1368.3,797.8 1371.1,799.4 1372.7,801.9 1375.0,803.8 1378.0,804.7 1381.0,805.4 1382.4,809.0 1385.7,808.8 1388.3,810.4 1391.3,810.8 1393.9,812.8 1397.0,811.7 1400.0,812.2 1402.9,812.5 1405.7,812.0 1408.4,810.5 1410.4,808.3 1411.9,805.6 1414.5,804.0 1416.5,801.1 1420.1,802.5 1422.0,802.6 1424.0,804.3 1426.9,805.9 1426.9,809.5 1428.7,812.0 1431.1,813.8 1433.4,815.8 1435.2,818.3 1437.3,820.4 1438.9,822.8 1441.8,824.4 1442.4,827.5 1444.4,829.8 1444.5,833.2 1447.5,835.0 1449.2,837.2 1452.1,838.6 1453.3,841.6 1455.2,843.8 1457.5,845.8 1460.6,845.8 1463.7,845.1 1466.9,845.3 1469.4,847.3 1472.1,848.8 1474.9,849.8 1477.2,851.7 1478.0,854.7 1479.2,857.4 1480.5,860.1 1481.3,863.0 1483.0,865.5 1485.8,866.4 1488.4,867.0 1491.3,866.3 1494.1,865.2 1496.7,863.8 1499.7,863.1 1501.9,860.8 1504.7,860.0 1507.7,859.0 1509.0,856.1 1510.8,853.7 1512.9,851.6 1513.2,847.6 1516.8,846.9 1519.7,846.0 1522.3,844.8 1524.8,844.6 1527.2,846.3 1529.2,848.5 1530.9,851.0 1533.1,853.2 1536.1,853.9 1539.0,854.6 1541.8,855.7 1543.7,858.0 1546.0,859.9 1547.6,862.4 1549.0,865.1 1550.6,867.6 1553.3,868.6 1556.0,869.9 1558.9,869.9 1561.6,869.1 1563.2,866.3 1566.5,865.6 1568.2,862.9 1571.1,861.7 1573.5,860.5 1575.5,859.4 1577.9,860.8 1579.9,862.9 1582.4,862.2 1584.8,860.6 1586.8,858.4 1587.9,855.3 1590.4,853.6 1592.2,851.3 1594.8,851.2 1597.4,852.4 1600.5,852.6 1603.2,853.8 1606.0,853.1 1609.1,853.5 1612.0,853.3 1614.7,853.4 1617.7,853.9 1619.8,856.6 1623.0,856.9 1626.0,857.5 1628.7,858.9 1631.2,860.5 1633.8,861.8 1636.1,862.8 1638.3,861.0 1640.5,859.1 1642.4,856.8 1645.2,856.1 1648.0,855.4 1651.0,855.7 1653.9,855.6 1656.9,855.9 1659.9,856.2 1662.8,856.9 1665.3,858.4 1667.7,860.1 1669.8,862.2 1672.9,863.3 1674.5,866.0 1677.1,867.4 1679.8,868.6 1681.3,871.9 1684.6,871.9 1687.0,873.8 1689.1,875.9 1690.7,878.5 1693.7,878.9 1696.2,880.9 1698.3,878.9 1700.5,877.5 1702.7,875.5 1705.1,874.5 1707.6,873.1 1709.9,874.9 1711.7,872.8 1714.4,871.7 1716.7,869.7 1719.6,868.5 1720.5,865.2 1723.1,863.5 1724.9,861.1 1727.5,859.5 1729.8,857.9 1732.1,855.9 1734.6,854.2 1737.7,853.1 1739.6,856.1 1743.1,856.0 1744.6,859.4 1747.6,857.7 1750.8,859.4 1753.5,858.4 1756.0,858.1 1758.7,859.1 1761.3,860.6 1763.0,863.5 1766.2,863.5 1769.1,862.2 1772.1,862.2 1774.8,863.1 1777.1,864.9 1779.1,867.1 1781.0,869.2 1783.4,868.9 1785.0,866.6 1787.3,864.6 1790.0,863.2 1793.0,863.2 1796.0,862.5 1799.0,862.1 1802.0,862.2 1805.0,862.9 1807.7,864.1 1810.2,865.9 1812.8,867.3 1815.3,869.2 1818.0,870.3 1819.4,872.9 1821.2,875.3 1822.5,878.1 1823.2,881.1 1826.4,882.5 1827.2,885.6 1829.2,887.9 1831.3,889.5 1833.8,890.5 1836.4,892.3 1839.3,892.9 1842.2,893.9 1844.6,895.8 1847.3,897.2 1850.2,898.3 1851.6,901.4 1854.2,903.0 1856.8,904.3 1859.7,904.4 1862.6,905.2 1865.5,906.4 1867.6,904.2 1870.3,902.8 1871.8,900.1 1874.7,899.9 1877.6,900.3 1880.4,900.1 1882.9,898.5 1885.2,896.7 1888.0,896.3 1890.8,896.8 1893.5,898.1 1896.0,899.6 1899.1,900.7 1900.4,903.5 1902.2,905.9 1904.1,908.3 1906.7,910.0 1907.3,913.6 1910.8,914.3 1911.9,917.5 1914.7,918.9 1917.3,920.5 1919.2,923.0 1921.8,924.5 1924.5,925.9 1926.6,928.2 1929.9,926.6 1932.3,927.0 1934.7,925.4 1937.8,924.7 1940.8,924.7 1943.8,924.3 1945.8,922.1 1948.9,921.0 1949.6,917.9 1950.2,914.6 1953.2,913.2 1955.1,910.8 1958.0,909.8 1960.9,908.9 1963.2,907.2 1964.7,908.7 1967.0,910.0 1969.4,911.9 1970.9,914.6 1973.2,916.6 1974.1,919.6 1975.3,922.4 1977.9,924.3 1979.7,926.6 1981.6,928.2 1984.4,928.4 1987.3,928.7 1990.2,929.6 1993.4,929.1 1996.0,931.0 1998.4,929.9 2000.1,927.8 2003.2,926.9 2006.3,926.0 2008.1,923.6 2011.0,922.9 2013.7,921.7 2016.3,921.7 2018.9,922.9 2020.1,925.8 2022.5,927.7 2024.2,930.2 2026.0,932.6 2028.8,934.0 2031.3,935.3 2033.6,937.9 2037.1,936.7 2039.9,937.9 2042.3,939.7 2044.8,941.4 2047.7,942.4 2049.4,945.4 2052.2,943.7 2055.0,943.4 2057.8,942.4 2060.7,941.5 2063.5,940.3 2065.6,938.1 2067.8,936.0 2070.2,934.2 2072.2,932.2"/>
<polyline class="c" stroke="#000080" points="285.8,1099.9 288.5,1098.5 291.6,1098.2 294.7,1098.9 297.5,1097.5 300.3,1098.6 302.9,1099.9 305.6,1100.8 307.2,1103.3 309.6,1105.3 311.4,1107.6 313.0,1109.9 314.9,1112.0 317.1,1114.0 319.2,1116.0 320.3,1118.8 321.4,1121.5 322.5,1124.4 325.3,1125.6 326.9,1128.2 329.8,1129.1 332.7,1130.1 335.2,1127.7 338.4,1127.9 341.1,1126.5 343.9,1125.2 346.2,1123.4 347.7,1120.4 350.5,1119.1 352.9,1117.4 354.9,1119.5 357.0,1121.6 359.6,1123.3 361.4,1125.7 362.5,1128.7 365.9,1129.6 366.6,1133.1 369.4,1134.3 371.7,1135.0 374.6,1134.3 376.2,1131.3 378.2,1128.7 381.2,1127.8 384.6,1128.5 387.2,1126.7 390.1,1126.3 393.0,1126.8 395.9,1127.8 398.2,1130.3 401.6,1129.6 404.6,1130.0 407.2,1130.5 410.3,1131.5 412.1,1128.6 414.9,1127.7 417.6,1127.3 420.5,1126.9 423.5,1126.4 426.6,1125.9 429.2,1127.8 431.9,1129.1 433.9,1131.4 435.8,1133.8 437.8,1136.0 440.4,1137.6 441.6,1140.6 444.1,1142.4 445.5,1145.1 447.8,1147.1 449.4,1149.7 451.9,1151.2 454.0,1152.9 456.1,1150.5 459.3,1150.2 461.7,1148.3 464.6,1147.3 466.9,1145.3 469.3,1143.3 472.6,1143.3 475.1,1141.7 478.1,1141.0 480.8,1139.9 483.5,1138.8 486.1,1140.4 489.1,1141.0 491.4,1143.3 494.7,1143.2 497.6,1143.3 500.1,1141.8 503.3,1141.9 506.2,1141.2 508.8,1139.8 511.6,1138.8 512.9,1136.0 514.6,1133.5 516.4,1131.1 518.1,1129.0 520.6,1128.2 523.4,1129.3 526.5,1129.2 529.3,1130.0 532.0,1129.4 534.6,1128.3 536.9,1126.4 540.0,1125.7 543.1,1125.2 545.2,1122.7 548.2,1122.1 551.0,1120.9 554.0,1120.2 556.1,1117.6 559.2,1117.2 561.9,1115.8 564.0,1113.7 566.5,1111.9 567.6,1108.8 570.0,1107.0 572.1,1104.9 574.2,1102.7 576.0,1100.3 577.2,1097.5 579.3,1095.3 581.3,1093.2 584.3,1093.3 587.3,1093.6 590.3,1094.4 593.3,1094.0 595.8,1092.8 598.4,1092.2 599.7,1089.4 601.4,1086.9 603.0,1084.4 604.8,1082.0 607.8,1080.4 608.8,1077.4 609.3,1074.2 612.2,1072.4 612.6,1069.2 613.9,1066.5 615.0,1063.6 618.2,1063.9 621.1,1063.4 623.9,1061.8 626.6,1060.9 629.5,1060.2 632.1,1058.8 635.1,1058.2 637.7,1057.3 640.5,1058.2 643.6,1058.6 645.7,1056.4 648.5,1054.9 649.4,1051.8 651.5,1049.6 652.8,1046.8 654.7,1044.6 657.2,1043.2 660.0,1042.3 662.9,1041.7 666.0,1041.6 669.0,1041.0 671.2,1038.9 673.5,1036.9 675.3,1034.5 677.7,1032.6 679.8,1030.5 682.1,1028.5 683.8,1026.0 686.1,1024.0 688.2,1021.9 689.8,1019.7 692.1,1018.1 695.0,1019.2 698.0,1019.2 700.8,1021.0 702.8,1018.6 704.5,1016.1 706.8,1014.2 708.8,1011.9 711.5,1010.5 713.4,1008.3 715.8,1006.6 718.6,1005.4 720.7,1003.2 723.3,1001.8 724.7,999.2 727.4,997.4 729.3,995.1 729.7,991.7 731.9,989.6 733.8,987.2 735.4,984.6 738.3,983.2 740.8,981.7 743.3,980.2 746.1,979.1 748.9,978.3 751.5,976.5 754.5,975.9 757.5,975.7 759.1,973.4 760.5,970.9 763.6,969.2 763.9,965.9 765.1,963.0 767.2,960.8 769.9,959.1 771.4,956.5 773.9,954.5 774.2,951.2 775.4,948.4 777.9,946.4 779.1,943.5 781.5,941.6 784.1,940.1 786.4,938.4 789.0,937.1 791.8,935.9 793.5,933.4 796.4,932.0 797.2,928.9 798.5,926.3 798.0,923.1 798.4,920.1 799.4,917.2 801.4,914.6 801.5,911.6 801.3,908.4 803.1,905.8 803.3,902.7 805.0,900.1 804.9,896.9 805.6,893.9 808.3,891.8 808.9,888.8 809.7,885.9 811.7,883.5 812.5,880.6 815.0,879.1 818.0,878.8 820.3,876.7 822.7,874.9 824.7,872.7 825.6,869.8 826.9,867.1 827.9,864.3 829.3,861.6 829.9,858.6 831.5,855.9 830.1,852.5 831.3,849.7 831.6,846.7 833.0,843.9 833.2,840.9 835.0,838.2 833.8,834.9 834.8,832.1 834.8,829.0 834.8,826.0 836.4,823.2 836.9,820.2 838.0,817.4 838.2,814.3 839.5,811.6 840.7,808.9 840.4,805.5 843.3,803.5 844.5,800.7 845.1,797.7 846.5,795.0 847.3,792.1 847.4,789.0 848.1,786.1 848.8,783.2 849.8,780.3 850.5,777.4 851.4,774.6 851.6,771.5 852.6,768.6 854.1,765.9 854.0,762.8 855.2,760.0 855.2,756.9 856.4,754.1 856.9,751.2 858.3,748.5 859.3,745.7 861.0,743.3 862.8,740.8 865.0,738.8 866.8,736.9 869.1,737.2 869.5,740.1 870.6,742.9 872.0,745.6 873.0,748.4 873.3,751.5 874.7,754.2 875.3,757.1 875.6,760.2 878.3,762.4 878.8,765.4 879.6,768.3 881.4,770.0 883.1,769.9 886.0,768.8 887.1,765.7 889.4,764.0 892.1,764.9 895.1,765.6 897.0,768.0 898.0,770.8 900.0,773.1 900.3,776.3 902.4,778.4 904.7,779.4 907.6,779.4 910.6,779.5 911.5,776.4 914.7,775.1 916.3,772.6 917.2,769.7 917.7,766.7 918.2,763.8 918.0,760.7 918.5,757.8 920.1,755.0 920.4,752.0 921.2,749.1 920.2,745.9 922.2,743.1 921.7,740.0 921.3,736.9 923.3,734.2 923.6,731.2 923.9,728.2 924.9,725.4 925.9,722.5 926.9,719.7 927.0,716.6 927.5,713.7 928.7,710.9 928.5,707.7 928.8,704.7 930.4,702.0 930.4,699.0 930.2,695.9 931.6,693.1 931.7,690.1 932.1,687.1 933.9,684.3 934.6,681.4 934.5,678.4 934.8,675.4 935.2,672.4 934.4,669.2 936.8,666.6 936.5,663.5 937.8,660.7 937.8,657.6 938.9,654.8 938.1,651.6 938.8,648.7 941.0,646.0 940.7,642.9 941.0,639.9 940.6,636.8 941.9,634.0 943.1,631.1 943.2,628.1 943.4,625.1 943.2,622.0 945.0,619.3 944.5,616.2 946.0,613.4 947.4,610.6 945.7,607.2 948.0,604.6 947.5,601.5 948.4,598.6 948.6,595.6 950.1,592.8 948.8,589.5 951.0,586.8 952.2,584.0 952.8,581.1 953.8,578.3 953.0,575.0 954.1,572.2 954.4,569.2 956.5,566.6 956.2,563.4 957.9,560.8 957.5,557.6 958.7,554.9 961.0,552.9 962.0,549.9 964.5,548.8 965.4,548.5 965.9,551.0 967.8,553.5 968.7,556.4 969.4,559.3 970.9,562.0 972.2,564.8 971.8,568.0 973.1,570.7 973.3,573.8 975.1,576.4 974.8,579.6 976.7,582.2 976.5,585.4 978.0,588.1 978.8,591.0 978.2,594.2 979.4,597.0 980.3,599.9 980.6,602.9 983.0,605.4 982.7,608.6 983.7,611.4 984.6,614.2 985.4,617.1 986.3,620.0 988.9,622.1 988.9,625.4 990.2,628.1 991.7,630.7 992.3,633.7 993.1,636.6 994.5,639.3 996.0,642.0 996.5,645.0 997.8,647.7 998.6,650.5 999.0,653.5 1001.3,655.4 1003.7,657.2 1006.1,659.0 1008.5,660.7 1010.0,663.3 1011.2,666.0 1011.1,669.3 1013.2,671.7 1013.5,674.8 1015.4,677.3 1016.6,680.0 1017.7,682.8 1017.6,686.0 1019.6,688.5 1021.3,691.1 1021.1,694.4 1021.5,697.4 1023.0,700.0 1024.3,702.8 1025.1,705.7 1027.4,707.9 1027.8,711.0 1028.9,713.8 1030.8,716.2 1032.7,718.5 1034.2,721.1 1035.7,723.8 1037.8,726.1 1039.0,728.8 1039.1,732.1 1040.0,735.0 1042.2,737.3 1042.9,740.3 1043.4,743.3 1045.0,745.9 1045.9,748.7 1047.8,751.2 1048.5,754.2 1050.3,756.7 1050.9,759.7 1051.8,762.6 1053.5,765.1 1054.4,767.9 1055.3,770.8 1056.2,773.7 1058.1,776.1 1060.1,777.6 1062.1,779.2 1064.5,780.2 1065.9,777.4 1068.3,775.1 1071.4,776.4 1074.3,777.1 1076.5,779.0 1078.3,777.1 1081.0,775.7 1082.9,773.4 1085.6,771.9 1087.8,770.3 1090.2,769.2 1093.1,768.5 1096.2,768.5 1099.1,769.4 1102.2,768.8 1104.9,770.4 1106.9,772.0 1108.9,774.3 1109.1,777.6 1111.0,779.9 1113.2,782.3 1114.3,785.1 1115.3,787.8 1115.3,790.7 1117.0,789.2 1118.8,787.1 1121.1,785.9 1123.3,786.8 1125.6,788.7 1128.7,789.3 1131.3,790.3 1134.2,791.1 1136.0,793.4 1139.0,794.7 1141.1,796.9 1142.2,799.8 1144.8,801.5 1146.5,804.0 1147.5,807.0 1149.4,808.8 1150.6,808.0 1152.5,805.9 1152.9,802.9 1154.3,800.2 1154.9,797.2 1155.0,794.0 1158.3,792.6 1159.6,789.8 1161.9,787.8 1163.0,784.8 1165.2,782.8 1167.9,781.2 1169.7,778.6 1172.3,777.0 1175.4,777.0 1178.2,776.1 1180.9,775.1 1183.3,773.1 1182.8,769.6 1184.2,766.9 1186.7,764.9 1188.1,762.3 1189.6,759.7 1191.8,757.6 1193.1,754.6 1197.4,755.0 1198.5,751.6 1201.2,750.2 1203.5,748.2 1206.5,747.5 1209.5,747.0 1211.9,744.9 1213.8,742.9 1216.4,741.6 1216.9,738.6 1217.2,735.6 1218.5,732.9 1219.3,730.0 1219.6,727.0 1221.0,724.7 1223.2,725.2 1225.8,725.8 1228.9,726.3 1231.0,728.0 1233.1,726.7 1236.0,726.3 1238.6,725.9 1240.3,728.0 1243.2,728.2 1245.0,728.6 1247.1,726.8 1249.8,725.6 1252.5,726.5 1255.2,727.2 1258.4,727.0 1260.9,728.6 1263.4,729.8 1266.3,729.0 1267.0,725.4 1269.5,723.7 1271.9,722.6 1272.8,723.5 1274.7,725.4 1275.2,728.5 1277.1,730.9 1278.6,733.5 1280.6,735.7 1281.9,738.5 1283.3,741.0 1284.5,743.4 1286.3,746.1 1285.9,749.2 1287.6,751.9 1288.1,754.9 1288.7,757.9 1288.8,760.9 1289.1,763.9 1289.0,767.0 1291.1,769.0 1293.6,770.6 1296.1,771.3 1298.2,773.0 1299.5,775.7 1301.6,778.0 1304.4,779.2 1306.7,781.1 1309.0,783.0 1311.0,785.2 1311.3,788.3 1312.7,791.0 1313.2,794.0 1314.9,796.6 1315.8,799.4 1316.3,802.4 1317.5,805.2 1319.3,807.7 1319.6,810.8 1320.3,813.7 1321.5,816.5 1321.1,819.6 1322.8,822.3 1323.7,825.2 1324.4,828.1 1325.6,830.9 1327.3,833.4 1327.8,836.3 1329.3,838.9 1329.8,842.1 1331.7,844.4 1334.0,846.7 1333.7,849.9 1335.8,852.4 1335.5,855.6 1336.7,858.4 1339.1,860.6 1339.2,864.0 1341.6,866.0 1343.7,868.2 1345.2,870.8 1345.6,873.9 1348.7,875.7 1349.1,878.8 1351.6,880.9 1352.7,883.8 1352.2,887.4 1355.5,889.0 1357.3,891.4 1359.8,893.3 1359.8,896.9 1362.0,898.7 1364.7,899.3 1367.8,900.5 1370.6,897.3 1372.9,899.9 1376.0,900.3 1377.2,903.4 1380.7,904.1 1381.8,907.1 1383.6,909.5 1384.4,912.5 1385.7,915.1 1387.7,917.5 1387.5,921.1 1389.3,923.7 1392.2,925.1 1394.0,927.6 1396.9,928.6 1399.1,930.9 1400.8,927.5 1404.4,927.7 1406.8,925.8 1408.4,923.2 1411.0,921.6 1413.1,919.5 1415.6,918.1 1417.4,917.0 1419.0,919.4 1421.5,921.1 1424.0,922.8 1425.9,925.2 1428.0,927.4 1430.3,929.4 1433.4,930.1 1435.5,932.3 1437.5,934.6 1440.1,936.3 1441.3,939.2 1444.3,940.2 1446.1,942.8 1448.0,945.1 1449.9,947.4 1452.0,949.5 1453.1,952.5 1455.7,954.3 1457.9,956.4 1459.4,959.0 1460.0,962.2 1462.8,963.7 1464.6,966.3 1467.3,967.7 1470.5,967.8 1473.6,968.1 1476.4,969.2 1479.2,970.4 1481.6,972.3 1483.7,974.5 1486.3,976.0 1489.0,977.3 1491.0,980.1 1494.1,980.4 1497.0,981.1 1499.9,982.8 1502.6,980.8 1505.6,980.4 1508.5,979.3 1511.5,979.3 1514.3,979.6 1516.7,979.1 1520.1,978.8 1521.5,975.9 1523.8,974.0 1526.4,972.7 1529.4,972.5 1532.2,972.2 1535.2,972.3 1536.3,975.6 1539.4,976.7 1541.1,979.2 1543.3,981.3 1546.4,981.9 1548.6,982.0 1550.9,981.1 1550.6,977.6 1551.5,974.6 1555.5,973.8 1557.4,971.9 1560.0,970.5 1562.5,969.0 1565.1,970.4 1567.2,972.5 1569.4,974.6 1571.5,976.7 1573.7,978.8 1575.1,981.5 1576.1,984.3 1578.2,986.3 1581.0,986.8 1583.1,987.7 1584.4,985.1 1587.6,983.9 1589.5,981.6 1590.2,978.1 1593.4,977.1 1595.5,974.9 1598.2,973.5 1600.7,972.3 1603.3,971.1 1606.1,970.1 1609.1,969.5 1610.9,967.1 1613.2,965.1 1614.9,962.6 1617.5,963.6 1619.8,965.2 1622.6,966.4 1624.6,968.7 1627.0,970.6 1628.3,973.4 1630.9,974.7 1634.0,975.0 1636.8,976.1 1639.7,976.8 1642.4,977.1 1644.8,976.0 1647.7,975.3 1650.4,974.0 1652.9,974.0 1655.0,975.3 1657.1,977.4 1659.1,979.2 1660.9,978.9 1664.0,978.6 1666.2,977.8 1668.3,976.9 1671.3,977.2 1674.1,978.4 1676.5,980.2 1679.0,982.1 1682.2,982.2 1684.7,983.9 1687.4,985.2 1690.2,986.4 1693.2,986.7 1696.1,987.7 1699.2,987.8 1702.2,987.3 1704.9,989.7 1708.1,988.3 1710.9,989.7 1713.6,991.0 1716.4,991.2 1719.0,991.4 1721.6,990.0 1724.6,989.3 1727.1,987.8 1729.3,985.8 1731.7,983.9 1733.8,981.8 1735.1,978.7 1738.1,977.7 1740.8,976.4 1743.7,975.0 1746.4,976.7 1749.2,978.0 1751.2,980.3 1753.6,982.1 1756.6,982.3 1759.1,984.6 1762.0,984.9 1765.1,985.3 1766.4,988.3 1768.6,990.4 1770.9,992.5 1774.3,992.6 1776.6,994.9 1779.6,995.4 1782.5,996.1 1785.3,997.5 1788.3,996.5 1791.4,996.7 1793.6,994.5 1795.9,992.4 1799.1,992.3 1801.8,992.1 1805.2,990.3 1807.6,993.4 1809.9,994.9 1812.2,996.8 1814.2,999.0 1816.9,1000.3 1819.8,1001.1 1822.0,1002.3 1823.8,1000.5 1826.0,998.5 1827.8,996.1 1829.7,993.7 1831.8,991.3 1834.9,991.6 1837.0,992.7 1838.8,995.0 1840.3,997.6 1842.6,999.6 1844.4,1002.1 1845.2,1005.0 1846.1,1007.9 1848.4,1010.1 1849.6,1012.8 1851.4,1015.2 1852.3,1018.3 1855.3,1019.8 1856.9,1022.1 1858.9,1022.7 1860.5,1020.5 1863.3,1019.2 1866.1,1018.0 1868.5,1016.3 1871.5,1015.7 1874.3,1014.5 1875.5,1011.4 1878.4,1010.5 1880.2,1011.3 1882.5,1012.7 1884.1,1015.3 1887.0,1016.8 1889.1,1019.0 1890.7,1021.6 1891.5,1024.8 1894.0,1026.6 1896.7,1026.7 1899.4,1026.8 1902.4,1026.3 1905.3,1027.1 1908.4,1027.2 1910.5,1029.6 1913.6,1030.3 1915.7,1032.6 1918.6,1032.9 1921.4,1034.2 1924.7,1033.6 1926.9,1036.1 1929.1,1038.2 1932.0,1039.2 1934.3,1041.2 1937.1,1039.9 1940.1,1039.9 1942.9,1038.5 1945.4,1040.2 1947.9,1041.7 1950.0,1043.5 1951.2,1043.0 1952.2,1041.0 1954.0,1038.6 1955.8,1036.5 1957.6,1035.9 1958.4,1038.4 1959.7,1041.2 1961.4,1043.4 1963.4,1043.5 1965.9,1043.1 1968.8,1042.6 1971.1,1040.9 1974.1,1039.7 1976.1,1037.6 1977.7,1035.2 1980.3,1035.8 1982.6,1037.7 1984.5,1036.4 1987.0,1035.5 1987.4,1032.2 1990.8,1031.1 1992.3,1029.8 1995.6,1028.8 1997.3,1031.7 1998.4,1034.5 2000.7,1036.7 2001.1,1039.9 2003.6,1041.5 2006.0,1042.4 2008.8,1043.6 2011.9,1043.2 2015.0,1043.3 2017.7,1044.7 2020.5,1045.8 2023.3,1046.8 2025.1,1049.2 2026.9,1051.6 2026.9,1055.0 2030.5,1056.3 2031.8,1058.6 2033.6,1061.1 2036.5,1062.1 2038.8,1063.2 2040.1,1063.2 2041.4,1061.0 2042.8,1058.4 2043.8,1055.5 2045.5,1053.3 2047.8,1051.7 2050.7,1050.9 2053.3,1051.4 2056.7,1051.3 2057.8,1054.7 2060.4,1056.3 2062.2,1058.8 2063.7,1061.4 2062.9,1065.1 2064.7,1067.6 2066.8,1069.9 2068.2,1072.6 2068.2,1075.9 2069.8,1078.4 2071.3,1081.0 2072.2,1083.4"/>
<polyline class="c" stroke="#ff0000" points="287.4,1173.2 288.9,1175.8 290.6,1178.3 290.7,1181.6 292.3,1184.1 293.9,1186.7 295.9,1189.0 296.8,1192.0 299.0,1194.1 300.8,1196.5 302.0,1199.4 304.0,1201.6 305.8,1204.1 309.1,1205.0 310.6,1207.7 313.0,1209.6 315.5,1211.3 317.7,1213.4 320.3,1214.7 323.1,1215.9 325.7,1217.4 328.3,1219.0 331.4,1219.6 333.4,1222.0 335.9,1223.6 338.0,1225.9 340.8,1227.1 343.4,1228.4 346.1,1229.8 348.8,1231.2 351.6,1232.0 354.4,1233.3 356.1,1235.8 358.7,1236.9 361.4,1237.4 364.4,1237.4 367.4,1237.4 370.2,1235.8 373.2,1236.1 376.3,1235.7 379.0,1237.3 382.0,1238.0 384.9,1236.9 387.8,1236.4 390.8,1235.9 393.6,1235.0 396.8,1235.7 399.6,1234.0 402.6,1234.2 405.6,1234.4 408.6,1234.1 411.8,1233.0 414.1,1235.7 416.2,1237.8 418.4,1239.8 421.6,1240.7 423.4,1243.1 425.7,1245.3 429.0,1244.8 431.8,1246.2 434.7,1246.9 437.5,1248.0 440.3,1248.9 443.3,1249.5 446.1,1250.4 448.9,1251.8 452.1,1250.7 454.9,1252.0 457.8,1253.1 460.8,1253.8 463.8,1254.0 466.8,1253.6 469.5,1252.8 472.2,1251.5 475.1,1250.6 477.8,1249.2 480.2,1247.3 483.1,1246.5 485.9,1245.5 488.7,1244.4 491.5,1243.3 493.9,1241.6 496.6,1240.3 499.4,1239.1 502.5,1238.9 504.9,1237.1 507.7,1238.5 510.9,1238.1 513.5,1240.1 516.7,1239.3 519.3,1241.2 522.3,1241.8 525.2,1241.0 528.3,1241.5 531.2,1240.6 533.5,1238.5 536.6,1237.8 538.8,1235.7 541.5,1234.4 543.3,1231.8 546.0,1230.3 548.6,1228.9 551.2,1227.5 554.2,1226.8 556.8,1225.2 559.6,1224.1 562.5,1223.4 565.2,1222.0 568.2,1221.3 570.8,1220.0 573.6,1218.9 575.5,1216.4 577.7,1214.5 579.8,1212.2 582.3,1210.5 584.8,1208.8 586.1,1205.8 588.3,1203.6 591.3,1202.8 593.7,1200.9 596.3,1199.5 598.1,1196.7 601.7,1196.8 603.7,1194.3 606.3,1192.8 609.1,1191.7 611.9,1190.5 613.7,1187.8 616.2,1186.3 618.1,1184.1 620.4,1182.1 621.5,1179.1 623.4,1176.7 625.5,1174.5 628.6,1173.6 630.6,1171.3 633.4,1170.1 635.9,1168.4 638.8,1167.3 641.3,1165.7 642.9,1162.7 646.2,1162.4 649.0,1161.6 652.0,1161.0 654.5,1159.9 656.5,1158.2 659.1,1156.5 660.5,1153.8 663.1,1152.0 664.4,1149.3 666.6,1147.2 667.4,1144.1 669.7,1142.1 670.5,1139.0 672.0,1136.4 674.8,1134.9 676.3,1132.1 679.0,1130.7 682.0,1129.8 683.7,1127.1 686.4,1126.0 688.6,1126.5 692.1,1124.8 694.1,1127.8 697.3,1127.3 700.0,1128.1 703.0,1127.8 705.9,1127.1 708.7,1126.2 711.6,1125.4 714.2,1123.8 717.0,1122.7 720.1,1122.2 722.8,1120.8 725.2,1119.0 727.7,1117.3 729.6,1114.9 732.3,1113.5 735.0,1112.0 738.1,1110.9 739.1,1107.6 740.7,1105.1 742.1,1102.5 744.1,1100.2 745.9,1097.8 747.5,1095.4 750.0,1093.7 753.2,1093.6 756.2,1093.0 758.8,1091.3 761.3,1089.6 764.1,1088.4 766.5,1086.6 769.2,1085.3 770.8,1082.2 774.1,1082.0 776.5,1080.1 779.3,1078.9 781.3,1076.8 782.5,1074.1 784.3,1071.7 785.5,1068.9 787.1,1066.3 788.7,1063.8 789.1,1060.6 791.0,1058.2 792.1,1055.4 794.4,1053.2 794.6,1049.9 796.6,1047.6 797.2,1044.6 799.3,1042.2 800.1,1039.3 802.3,1037.0 803.2,1034.1 804.1,1031.2 806.3,1029.0 807.2,1026.0 808.0,1023.1 810.7,1021.1 810.2,1017.5 811.2,1014.7 813.5,1012.4 815.1,1009.9 816.1,1007.0 817.8,1004.5 819.0,1001.8 821.0,999.4 821.9,996.5 822.5,993.5 823.7,990.7 824.2,987.6 826.4,985.4 826.5,982.2 827.8,979.5 828.6,976.6 829.3,973.7 830.9,971.0 831.0,967.9 832.3,965.2 834.6,962.7 834.2,959.5 834.2,956.4 836.6,953.9 836.8,950.9 837.6,948.0 838.6,945.1 839.0,942.1 840.1,939.3 841.2,936.5 841.2,933.4 842.1,930.6 843.7,927.9 845.2,925.2 844.5,921.9 846.2,919.3 847.9,916.6 848.1,913.6 848.6,910.6 848.9,907.5 848.7,904.3 851.2,901.9 852.8,899.3 853.4,896.3 854.5,893.6 855.4,890.7 857.1,888.2 858.0,885.3 859.1,882.5 861.0,880.1 861.6,877.1 862.2,873.9 865.4,872.9 867.2,870.3 869.5,868.5 872.0,867.7 874.8,867.6 877.4,869.3 879.1,871.8 881.6,873.6 882.1,876.7 884.2,879.0 885.1,881.9 886.1,884.8 888.2,887.1 891.4,888.3 891.5,892.1 893.3,894.4 895.7,896.3 898.0,898.2 901.0,898.8 903.7,900.2 904.6,897.3 906.5,895.0 908.1,892.5 908.4,889.3 909.9,886.7 912.4,884.6 913.3,881.7 914.9,879.1 917.3,877.1 919.0,874.6 919.9,871.6 920.1,868.5 921.6,865.9 922.6,863.0 922.7,859.9 924.7,857.4 924.3,854.1 925.6,851.4 926.4,848.5 928.3,845.9 929.4,843.1 928.6,839.8 929.7,837.0 930.3,834.0 931.0,831.1 931.1,828.1 933.3,825.5 934.0,822.6 934.0,819.5 935.1,816.7 936.1,813.8 935.9,810.7 936.4,807.7 938.1,805.0 938.2,802.0 937.3,798.8 939.3,796.1 939.0,793.0 939.4,790.0 940.6,787.2 941.8,784.4 942.6,781.4 942.3,778.3 942.7,775.3 942.5,772.3 944.0,769.5 944.2,766.5 945.1,763.6 946.5,760.8 946.0,757.7 947.5,754.9 946.8,751.7 948.8,749.1 949.0,746.0 949.7,743.1 950.6,740.2 950.7,737.2 951.6,734.3 951.8,731.3 952.1,728.3 953.0,725.4 953.6,722.5 953.9,719.5 953.5,716.4 955.2,713.6 955.4,710.6 956.1,707.7 957.0,704.8 956.9,701.7 957.5,698.8 958.5,695.9 959.2,693.0 960.6,690.3 961.2,687.3 961.9,684.4 964.3,682.1 964.2,678.9 966.6,676.8 967.5,674.0 969.1,674.5 970.1,676.1 972.9,678.0 973.8,680.9 975.3,683.5 975.9,686.5 977.7,689.1 978.2,692.0 978.7,695.0 980.0,697.8 981.3,700.5 981.7,703.5 982.5,706.4 984.1,709.1 983.2,712.4 984.9,715.1 986.0,717.9 986.2,720.9 986.8,723.9 987.1,726.9 987.5,729.9 989.6,732.5 990.6,735.3 990.5,738.4 992.2,741.1 992.1,744.2 993.6,746.9 994.3,749.8 995.3,752.6 995.9,755.6 996.9,758.4 998.1,761.2 998.9,764.1 1000.1,766.8 1000.0,770.0 1002.2,772.4 1002.3,775.6 1002.6,778.8 1005.3,780.9 1007.3,783.2 1007.5,786.4 1008.8,789.1 1010.7,791.6 1010.5,794.9 1012.8,797.2 1013.8,800.1 1015.0,802.8 1016.3,805.5 1017.6,808.2 1019.0,810.9 1019.4,814.0 1021.5,816.4 1020.6,819.9 1022.7,822.3 1023.4,825.3 1025.2,827.8 1025.4,831.0 1027.3,833.4 1027.8,836.4 1028.8,839.3 1030.7,841.8 1031.0,844.9 1032.4,847.5 1032.6,850.7 1033.9,853.4 1034.0,856.5 1036.7,858.7 1036.6,862.0 1038.3,864.5 1039.9,867.1 1043.2,868.1 1044.9,870.7 1046.6,873.2 1048.1,876.0 1050.7,877.6 1053.2,879.3 1055.7,881.0 1057.9,883.1 1060.5,884.5 1062.8,886.6 1065.9,887.2 1068.5,888.7 1071.1,889.9 1073.6,890.4 1076.4,890.0 1078.7,888.3 1080.8,889.6 1083.7,890.0 1085.9,890.0 1088.4,888.9 1090.0,886.2 1093.0,884.9 1095.1,882.9 1097.7,881.4 1100.6,880.5 1103.1,878.8 1105.2,876.5 1107.4,878.1 1109.8,879.8 1110.4,883.2 1114.3,883.9 1115.0,887.2 1117.2,889.3 1119.1,891.7 1120.4,894.4 1121.9,897.0 1124.6,898.8 1126.4,901.4 1125.2,905.1 1126.7,907.7 1128.9,910.1 1130.6,912.1 1132.4,914.5 1135.3,915.5 1137.5,917.2 1140.0,916.8 1141.5,914.1 1144.0,912.4 1146.5,910.7 1149.1,909.2 1151.7,907.7 1153.9,905.6 1156.3,903.8 1159.2,903.1 1162.1,902.2 1165.0,901.9 1167.9,900.8 1171.1,902.0 1174.0,901.2 1176.5,899.7 1178.8,899.0 1180.1,896.4 1181.5,893.7 1183.1,891.2 1184.7,888.6 1185.8,885.8 1186.6,882.9 1187.9,880.2 1189.6,877.6 1189.9,874.5 1190.3,871.5 1192.7,869.1 1191.6,865.6 1192.5,862.8 1193.4,859.9 1195.3,857.4 1195.2,853.8 1197.9,852.0 1200.4,850.3 1202.8,848.4 1205.1,846.5 1206.9,844.1 1209.9,843.9 1212.6,842.4 1215.7,842.8 1218.6,842.9 1221.5,843.1 1224.4,843.3 1226.4,841.2 1228.6,839.3 1230.6,837.0 1233.5,835.6 1235.3,833.2 1236.7,830.5 1238.9,828.4 1240.8,826.0 1242.0,823.2 1244.9,821.8 1247.5,820.7 1249.8,818.8 1252.6,818.1 1254.8,817.1 1256.9,818.9 1258.7,821.4 1261.3,823.1 1263.1,825.5 1264.5,828.2 1266.2,830.7 1266.4,833.9 1268.2,836.4 1270.3,838.7 1271.3,841.5 1272.8,844.1 1274.3,846.7 1275.1,849.7 1276.1,852.6 1277.9,855.0 1280.4,857.0 1281.4,859.9 1283.2,862.3 1284.8,864.9 1285.9,867.8 1288.2,869.9 1291.5,870.6 1293.2,873.2 1295.3,875.6 1298.3,876.3 1300.7,878.1 1302.8,880.3 1303.7,883.4 1305.7,885.6 1307.8,887.8 1307.9,891.1 1308.9,893.9 1310.9,896.3 1312.2,899.0 1313.7,901.6 1315.1,904.3 1315.9,907.2 1316.6,910.1 1317.3,913.1 1318.3,915.9 1318.4,919.1 1319.6,921.8 1320.7,924.7 1322.7,927.1 1323.8,929.9 1325.3,932.5 1326.3,935.3 1325.6,938.7 1326.9,941.4 1329.1,943.9 1329.9,946.8 1331.8,949.3 1332.7,952.2 1333.1,955.2 1333.7,958.1 1334.6,961.0 1335.9,963.7 1336.9,966.6 1338.5,969.1 1338.7,972.3 1340.8,974.7 1342.4,977.3 1342.3,980.6 1344.2,983.0 1345.2,985.9 1347.0,988.3 1349.1,990.4 1351.5,992.0 1353.7,994.2 1355.6,996.6 1358.3,997.9 1360.1,1000.3 1362.3,1002.5 1365.4,1003.6 1367.0,1006.2 1369.4,1008.0 1371.4,1010.3 1373.7,1012.2 1376.2,1013.9 1377.6,1017.0 1381.0,1016.2 1383.8,1016.9 1386.8,1017.0 1389.7,1016.1 1392.7,1016.1 1395.7,1016.0 1398.1,1017.3 1401.1,1017.0 1403.7,1018.4 1406.7,1018.0 1409.6,1017.6 1412.6,1016.6 1415.0,1018.8 1417.4,1020.5 1419.8,1022.2 1422.5,1023.5 1424.4,1026.0 1427.7,1026.6 1430.1,1028.4 1431.8,1030.9 1433.3,1033.4 1435.6,1035.5 1437.1,1038.0 1439.4,1040.2 1440.1,1043.2 1440.6,1046.2 1442.4,1048.8 1442.7,1051.8 1445.1,1054.1 1446.3,1056.7 1446.4,1060.0 1447.9,1062.7 1451.2,1063.4 1453.4,1064.6 1456.1,1063.8 1459.0,1063.2 1461.7,1063.4 1463.6,1065.5 1465.5,1067.8 1467.8,1069.8 1470.8,1070.0 1473.7,1070.4 1476.7,1070.3 1479.2,1071.9 1481.3,1073.2 1484.6,1074.0 1486.4,1076.4 1488.4,1078.7 1490.9,1080.1 1493.0,1079.1 1495.5,1078.1 1498.6,1077.2 1501.2,1076.1 1503.7,1074.7 1506.2,1072.7 1509.3,1072.8 1512.0,1072.0 1514.6,1073.1 1517.7,1073.3 1520.4,1074.8 1523.2,1073.2 1526.1,1072.5 1529.1,1072.5 1531.5,1074.7 1534.5,1075.4 1537.5,1075.4 1540.4,1076.5 1543.3,1077.0 1546.2,1077.4 1548.7,1079.0 1551.3,1080.5 1554.1,1081.4 1556.3,1082.0 1558.9,1082.4 1561.6,1081.1 1564.7,1080.8 1567.3,1079.2 1570.0,1077.8 1573.0,1076.9 1574.7,1074.0 1577.5,1073.1 1580.3,1071.7 1583.4,1072.3 1586.4,1071.6 1589.4,1072.2 1592.2,1073.1 1595.1,1074.2 1598.0,1075.0 1600.2,1076.6 1602.7,1076.4 1604.4,1073.9 1606.3,1071.6 1609.7,1071.6 1611.9,1070.0 1614.8,1069.1 1617.8,1069.1 1620.8,1069.0 1623.6,1070.5 1626.8,1069.1 1629.5,1070.4 1632.2,1072.1 1635.1,1072.7 1638.5,1071.7 1641.1,1073.7 1643.9,1072.9 1646.7,1072.4 1648.9,1070.3 1652.0,1070.8 1654.8,1069.1 1656.4,1071.8 1658.5,1073.9 1660.6,1075.8 1663.3,1077.2 1666.1,1078.2 1669.0,1078.9 1671.5,1080.6 1675.0,1080.2 1677.9,1081.0 1680.2,1083.3 1682.6,1085.2 1685.0,1087.0 1688.2,1087.3 1690.8,1088.9 1693.5,1090.3 1696.8,1089.7 1699.4,1091.2 1702.3,1092.2 1704.8,1093.6 1706.9,1094.4 1709.5,1094.0 1712.4,1093.1 1715.1,1091.9 1717.5,1089.8 1720.9,1090.1 1723.0,1087.5 1726.2,1087.2 1728.8,1085.5 1731.9,1085.3 1734.6,1083.9 1737.5,1084.7 1740.6,1084.3 1743.3,1086.0 1746.5,1085.2 1749.5,1085.5 1752.2,1087.3 1755.1,1087.8 1757.8,1089.2 1760.9,1089.5 1763.1,1091.5 1766.0,1091.0 1768.9,1090.1 1772.0,1090.5 1775.0,1090.2 1777.9,1090.4 1780.9,1089.1 1783.8,1090.2 1786.6,1091.3 1789.7,1091.4 1792.2,1093.4 1795.2,1093.9 1798.1,1094.6 1800.4,1096.8 1803.5,1097.3 1806.2,1098.7 1808.6,1099.7 1811.2,1099.9 1814.2,1100.0 1817.1,1098.5 1819.8,1100.1 1822.1,1101.9 1823.6,1104.8 1826.0,1106.6 1828.8,1107.7 1831.8,1108.5 1834.5,1109.7 1836.6,1112.0 1839.3,1113.6 1841.1,1115.9 1842.7,1118.5 1844.9,1120.5 1847.1,1122.5 1849.6,1124.1 1851.6,1126.5 1854.0,1128.3 1856.1,1130.6 1859.2,1131.4 1861.4,1133.5 1864.2,1134.5 1866.8,1134.8 1869.8,1134.7 1872.2,1132.8 1875.2,1132.1 1877.8,1130.7 1880.5,1129.2 1883.6,1129.4 1886.3,1127.9 1889.0,1129.7 1892.1,1129.2 1895.1,1129.5 1897.8,1130.7 1900.3,1132.3 1902.5,1134.4 1903.6,1137.4 1906.4,1138.8 1908.3,1140.8 1911.2,1141.2 1914.1,1141.8 1917.1,1142.2 1920.1,1140.9 1923.0,1141.5 1926.0,1141.4 1929.0,1141.7 1931.9,1142.7 1934.9,1143.1 1937.9,1143.3 1940.9,1143.3 1943.9,1143.8 1946.8,1144.6 1949.8,1142.5 1952.8,1145.0 1955.5,1143.7 1958.5,1143.4 1961.3,1143.0 1964.4,1142.9 1967.1,1144.5 1970.3,1144.2 1972.5,1146.9 1975.8,1146.6 1978.4,1148.3 1981.2,1149.4 1984.2,1148.3 1987.3,1148.5 1990.2,1149.3 1993.1,1149.4 1996.2,1149.3 1999.0,1150.0 2001.9,1149.6 2004.8,1148.8 2007.4,1149.7 2010.0,1149.9 2012.7,1151.2 2015.9,1151.3 2018.8,1150.3 2021.9,1151.0 2024.8,1150.5 2027.7,1150.2 2030.2,1152.2 2033.2,1152.7 2036.3,1152.9 2039.1,1153.8 2042.0,1154.6 2044.5,1156.4 2047.3,1157.5 2049.8,1159.1 2052.7,1160.2 2055.6,1160.9 2058.2,1162.4 2060.9,1163.8 2064.0,1164.2 2066.9,1164.8 2069.8,1165.8 2072.2,1167.1"/>
<polyline class="c" stroke="#0000ff" points="287.4,1286.4 289.8,1288.2 292.6,1289.4 295.0,1291.1 297.9,1292.3 299.7,1295.0 302.5,1296.2 303.9,1299.5 306.7,1300.6 309.4,1302.1 312.1,1303.5 314.2,1305.6 316.5,1307.6 318.5,1309.8 320.5,1311.9 322.6,1314.0 325.0,1316.0 326.9,1318.3 329.2,1320.1 332.4,1320.5 334.2,1323.3 337.4,1323.5 339.8,1325.5 342.1,1327.9 345.5,1327.6 347.4,1330.0 349.6,1332.0 351.3,1334.5 353.9,1336.2 356.5,1337.7 359.0,1339.2 361.8,1340.3 364.2,1341.8 367.0,1342.2 369.8,1341.4 372.6,1340.5 375.5,1339.7 378.1,1341.3 380.6,1343.0 383.1,1344.8 386.1,1345.5 388.7,1346.4 391.1,1345.1 393.9,1344.2 396.7,1343.3 399.3,1342.1 402.1,1343.0 405.0,1343.7 408.1,1343.5 410.9,1345.2 413.8,1344.5 416.8,1345.2 419.8,1343.8 422.5,1345.3 424.7,1347.6 427.7,1348.2 430.6,1349.0 432.6,1351.9 435.7,1352.2 438.7,1352.0 441.7,1352.1 444.6,1353.9 447.4,1352.7 450.5,1353.0 452.8,1350.7 455.6,1349.6 458.6,1350.4 461.6,1350.5 464.5,1351.4 467.4,1350.4 470.3,1350.3 473.4,1350.6 476.4,1350.4 479.3,1350.1 481.9,1351.9 485.0,1351.8 487.8,1352.1 490.1,1351.1 492.5,1349.5 494.4,1347.2 497.2,1345.8 499.5,1343.9 501.7,1341.8 504.4,1340.6 507.1,1339.6 509.9,1338.8 512.7,1337.3 515.2,1339.4 518.0,1340.4 521.3,1340.2 524.3,1340.4 526.7,1342.7 529.6,1341.2 532.6,1341.0 535.6,1341.2 538.7,1342.0 541.2,1340.6 544.3,1340.1 546.2,1337.6 549.6,1337.1 550.8,1333.6 553.8,1332.8 556.5,1331.7 559.4,1331.0 562.1,1329.1 565.3,1329.6 568.1,1328.6 571.1,1327.9 573.6,1326.2 576.3,1324.9 578.8,1323.2 581.5,1321.9 583.3,1319.4 584.9,1316.8 587.5,1315.2 589.9,1313.3 591.5,1310.7 593.7,1308.7 595.1,1305.9 597.7,1304.2 598.9,1301.2 600.5,1298.6 602.6,1296.5 605.3,1294.8 607.4,1292.7 609.5,1290.7 611.8,1288.9 613.7,1286.4 616.3,1284.9 618.6,1282.9 621.1,1281.3 623.8,1279.9 626.9,1279.3 628.8,1276.6 631.5,1275.2 634.8,1275.1 637.0,1273.1 639.6,1271.9 642.3,1273.6 645.1,1274.7 648.1,1275.0 651.0,1274.6 654.0,1274.0 656.7,1272.7 659.0,1270.4 662.2,1270.4 665.0,1269.4 667.8,1268.4 670.7,1267.5 672.1,1264.7 674.1,1262.9 676.5,1260.8 678.2,1258.3 678.8,1255.2 681.5,1253.4 682.7,1250.6 684.1,1247.9 685.6,1245.3 687.7,1243.1 689.3,1240.6 691.8,1238.7 693.0,1235.9 695.6,1234.5 698.6,1234.1 701.7,1234.0 704.0,1232.0 706.2,1230.0 708.7,1228.3 709.9,1225.2 713.1,1224.7 715.6,1223.3 718.6,1223.1 721.6,1223.1 724.6,1223.1 727.2,1221.9 729.0,1219.7 732.1,1218.8 734.7,1217.3 736.9,1215.2 738.9,1212.8 741.8,1211.8 744.8,1211.0 747.7,1209.9 749.9,1207.7 752.7,1206.5 754.4,1203.7 756.6,1201.6 760.6,1202.1 762.6,1199.6 763.9,1196.9 765.1,1194.1 767.7,1192.2 769.1,1189.5 770.2,1186.7 772.6,1184.6 773.9,1181.9 775.7,1179.5 778.0,1177.4 778.0,1173.8 781.5,1172.5 782.6,1169.6 782.0,1166.0 784.6,1163.9 784.8,1160.7 787.5,1158.6 786.5,1154.9 788.1,1152.3 790.3,1150.0 791.2,1147.1 793.2,1144.8 794.4,1142.0 796.0,1139.4 797.5,1136.8 798.4,1133.9 800.3,1131.5 801.3,1128.7 802.4,1125.8 803.7,1123.1 803.8,1120.0 804.6,1117.1 805.0,1114.1 806.2,1111.3 806.0,1108.0 808.6,1105.8 810.9,1103.8 812.1,1101.0 813.9,1098.6 815.7,1096.2 817.8,1094.0 819.4,1091.5 821.5,1089.4 822.7,1086.4 825.4,1084.9 827.0,1082.3 829.9,1080.8 831.3,1078.1 832.2,1075.1 835.3,1073.6 836.6,1070.8 837.8,1068.1 839.5,1065.6 840.7,1062.9 840.6,1059.8 842.8,1057.2 842.4,1054.1 843.2,1051.2 843.3,1048.1 843.7,1045.1 844.2,1042.2 844.2,1039.1 847.3,1036.7 846.4,1033.4 849.1,1031.0 848.3,1027.7 849.5,1024.9 849.8,1021.9 850.6,1019.0 851.1,1016.0 852.9,1013.4 852.6,1010.2 853.4,1007.3 853.0,1004.1 854.9,1001.5 856.2,998.8 856.7,995.8 857.7,992.9 858.2,990.0 858.5,986.9 860.9,984.7 862.3,982.0 863.6,979.3 864.7,976.6 866.7,974.8 868.8,972.7 871.4,971.1 874.0,972.1 876.3,973.4 879.1,974.5 881.2,976.5 883.0,978.9 885.0,981.2 886.1,984.0 887.1,986.9 888.8,989.3 889.9,992.0 892.8,992.7 895.6,993.7 898.2,995.4 901.3,995.3 903.3,995.7 905.6,994.7 906.9,992.0 908.4,989.4 909.2,986.4 910.4,983.7 911.3,980.8 912.2,977.9 912.9,975.0 914.2,972.3 915.8,969.6 915.4,966.4 917.2,963.8 917.9,960.8 918.8,958.0 920.0,955.2 918.6,951.7 920.6,949.1 920.8,946.1 921.2,943.1 923.5,940.6 923.7,937.5 923.9,934.5 924.2,931.5 924.7,928.5 926.3,925.8 926.2,922.7 926.7,919.8 926.0,916.5 929.1,914.1 929.0,911.0 930.9,908.4 929.9,905.1 930.6,902.2 931.6,899.3 932.3,896.4 934.3,893.8 933.9,890.6 934.0,887.6 934.1,884.6 937.3,882.1 936.5,878.9 936.1,875.8 936.2,872.7 938.6,870.1 938.3,867.0 938.7,864.1 939.7,861.2 940.1,858.2 940.3,855.2 941.3,852.3 942.5,849.5 941.7,846.3 943.1,843.5 942.3,840.3 944.6,837.7 944.4,834.6 944.3,831.6 945.5,828.7 946.2,825.8 946.6,822.8 946.9,819.8 946.2,816.6 947.9,813.9 949.5,811.2 948.5,807.9 950.6,805.3 950.8,802.2 950.3,799.1 951.7,796.3 952.5,793.5 953.7,790.7 953.4,787.4 955.7,785.1 956.9,782.4 957.9,779.7 959.1,776.7 962.1,775.5 964.8,774.4 967.1,772.6 970.0,772.1 972.5,772.6 974.3,774.3 976.6,776.5 976.4,779.9 977.5,782.7 979.9,784.9 979.8,788.2 981.4,790.8 982.7,793.5 983.2,796.5 984.3,799.3 986.4,801.7 987.3,804.6 988.4,807.4 989.6,810.1 991.7,812.5 993.1,815.1 993.6,818.2 995.4,820.6 997.4,822.8 999.0,825.5 1002.0,826.7 1004.8,827.3 1007.3,828.8 1008.4,831.4 1008.4,834.5 1009.5,837.3 1010.5,840.2 1010.9,843.2 1012.7,845.8 1014.9,848.3 1014.3,851.6 1014.6,854.6 1015.6,857.4 1016.5,860.3 1018.0,863.0 1020.3,865.3 1020.7,868.4 1020.0,871.7 1022.4,874.2 1023.0,877.2 1023.4,880.1 1022.7,883.4 1024.7,886.0 1025.8,888.8 1024.3,892.2 1025.9,894.9 1027.9,897.5 1028.0,900.6 1028.4,903.6 1029.7,906.4 1030.8,909.2 1031.5,912.1 1032.4,914.9 1032.7,918.0 1034.1,920.6 1034.0,923.9 1035.9,926.4 1037.1,929.1 1037.4,932.2 1037.8,935.2 1038.9,938.1 1041.4,940.3 1041.0,943.7 1041.8,946.6 1042.8,949.4 1045.7,951.5 1047.0,954.0 1047.0,957.5 1048.0,960.3 1050.3,962.5 1051.4,965.4 1054.6,966.0 1057.0,967.8 1059.8,966.9 1062.0,964.5 1065.0,964.0 1067.5,965.7 1070.3,966.1 1073.5,965.5 1074.3,962.0 1077.0,960.5 1078.9,958.1 1081.4,956.3 1081.6,952.3 1085.9,952.4 1087.1,949.3 1090.2,948.4 1091.6,945.2 1094.1,947.1 1096.7,948.3 1099.3,947.8 1101.7,946.8 1104.7,946.6 1107.5,945.8 1109.2,948.4 1110.2,951.3 1111.6,954.0 1113.9,956.1 1114.8,959.1 1116.6,961.5 1118.0,964.2 1120.2,966.4 1122.3,968.5 1124.7,970.3 1127.9,971.1 1130.3,972.9 1133.2,973.5 1135.4,975.7 1138.3,975.4 1141.2,977.1 1143.7,975.2 1146.1,973.6 1148.9,972.2 1151.9,972.2 1154.6,971.1 1157.1,969.6 1158.7,966.9 1161.9,966.0 1164.2,963.9 1165.2,960.9 1167.6,958.9 1169.5,956.5 1170.9,953.8 1171.5,950.7 1172.6,947.9 1174.5,945.5 1174.6,942.2 1177.2,940.2 1178.2,937.3 1181.0,935.7 1182.2,932.8 1184.2,930.6 1186.5,928.9 1188.9,927.2 1191.3,925.4 1193.3,923.1 1194.8,920.5 1196.5,918.0 1198.9,916.1 1201.5,914.6 1203.2,912.0 1205.4,910.5 1208.3,909.3 1211.0,910.8 1212.8,913.8 1215.6,914.0 1218.9,913.7 1220.4,910.8 1222.2,908.3 1224.8,906.7 1226.3,904.0 1227.8,901.4 1230.0,899.3 1231.6,896.8 1232.8,893.9 1235.7,893.4 1238.4,892.3 1241.4,892.4 1244.4,893.0 1247.4,892.2 1250.3,890.9 1253.3,892.2 1256.0,892.8 1259.0,893.3 1261.6,895.0 1264.1,896.5 1266.1,898.3 1267.9,900.5 1270.7,902.3 1270.3,906.2 1273.0,908.0 1274.8,910.4 1277.6,911.2 1279.8,913.4 1281.1,916.1 1281.2,919.5 1284.0,921.0 1286.5,922.4 1289.1,923.8 1291.7,925.4 1292.3,928.6 1295.1,930.4 1295.7,933.6 1297.6,936.0 1297.7,939.1 1297.4,942.4 1300.8,944.4 1301.0,947.5 1302.0,950.3 1303.5,952.9 1305.9,954.9 1307.7,957.3 1308.7,960.2 1310.8,962.5 1311.7,965.3 1312.5,968.2 1313.8,971.0 1314.2,974.0 1316.3,976.5 1317.3,979.3 1318.4,982.1 1318.0,985.4 1318.4,988.4 1320.2,991.0 1321.5,993.7 1323.8,996.1 1323.4,999.4 1324.3,1002.3 1326.8,1004.6 1326.3,1007.9 1326.8,1010.9 1327.0,1014.0 1329.5,1016.3 1329.6,1019.4 1330.0,1022.4 1331.7,1025.1 1331.3,1028.3 1333.6,1030.8 1333.8,1033.8 1335.5,1036.5 1336.0,1039.5 1336.0,1042.6 1337.0,1045.4 1338.1,1048.2 1339.5,1050.9 1339.6,1054.0 1341.4,1056.6 1342.9,1059.1 1343.5,1062.1 1345.0,1064.7 1346.6,1067.3 1347.8,1070.0 1348.6,1073.0 1351.1,1075.0 1352.3,1077.8 1353.8,1080.4 1355.8,1082.5 1358.1,1084.5 1360.9,1084.4 1363.4,1082.9 1365.6,1080.3 1369.1,1080.8 1372.1,1080.6 1375.1,1080.4 1378.0,1079.3 1380.8,1078.4 1383.6,1077.8 1386.0,1078.6 1387.6,1081.2 1390.6,1082.4 1392.5,1084.7 1394.1,1087.4 1397.2,1088.5 1399.7,1090.1 1401.5,1092.7 1404.3,1094.1 1406.5,1096.1 1408.3,1098.6 1411.4,1099.2 1413.8,1101.1 1415.9,1103.4 1418.6,1104.7 1421.4,1105.8 1424.4,1106.1 1427.4,1106.2 1430.4,1106.6 1433.1,1107.8 1436.2,1108.3 1438.7,1109.9 1440.8,1112.0 1443.2,1113.8 1444.3,1116.8 1446.3,1119.0 1448.8,1120.6 1450.9,1122.8 1453.6,1123.8 1456.2,1124.7 1459.1,1124.2 1461.8,1123.8 1464.0,1124.7 1466.5,1126.0 1469.9,1126.2 1472.6,1127.4 1475.2,1128.7 1478.2,1129.3 1481.1,1129.9 1483.1,1132.4 1486.0,1133.4 1488.3,1135.3 1490.9,1136.8 1494.0,1137.8 1495.5,1140.5 1497.4,1143.0 1500.0,1144.5 1501.8,1147.4 1505.1,1147.5 1508.2,1147.8 1510.7,1149.7 1513.6,1150.7 1516.8,1150.7 1519.6,1149.4 1522.5,1148.6 1525.5,1148.7 1528.1,1146.3 1531.2,1146.7 1533.9,1147.2 1536.1,1149.2 1538.7,1150.8 1539.4,1154.3 1543.0,1154.8 1544.9,1157.2 1547.6,1158.5 1550.3,1160.2 1553.4,1159.6 1556.2,1159.5 1558.3,1160.9 1561.3,1161.4 1563.6,1163.4 1566.7,1163.4 1569.4,1162.0 1572.2,1161.7 1575.0,1160.9 1576.5,1158.2 1578.5,1155.9 1582.1,1155.4 1583.1,1151.9 1585.9,1150.7 1587.8,1148.4 1589.8,1146.1 1590.4,1142.9 1592.4,1140.7 1595.0,1139.2 1597.3,1137.2 1599.9,1135.8 1602.2,1133.4 1605.3,1133.0 1608.4,1132.6 1611.4,1132.6 1614.4,1132.6 1617.4,1131.8 1619.4,1134.3 1621.5,1136.2 1624.8,1136.9 1625.8,1139.8 1627.7,1142.2 1629.4,1144.5 1631.6,1146.5 1633.7,1148.6 1634.8,1152.1 1638.5,1151.9 1640.6,1154.5 1643.6,1154.9 1646.4,1155.0 1649.2,1154.3 1652.1,1154.4 1654.6,1156.2 1656.9,1158.1 1660.2,1158.3 1662.6,1160.3 1665.5,1160.9 1668.1,1161.1 1670.0,1158.9 1673.2,1158.3 1675.0,1156.7 1677.0,1158.5 1680.0,1159.2 1682.8,1159.3 1685.4,1158.4 1688.2,1157.5 1691.3,1157.3 1693.7,1155.4 1696.0,1153.6 1698.5,1152.1 1701.0,1151.2 1703.8,1151.2 1706.6,1151.8 1709.6,1151.8 1711.6,1154.0 1714.2,1155.6 1716.5,1157.4 1718.6,1159.7 1721.7,1160.1 1724.1,1162.4 1727.4,1161.2 1730.2,1162.6 1733.2,1162.8 1736.3,1163.6 1739.0,1161.9 1740.6,1159.1 1742.5,1156.7 1745.1,1155.0 1748.1,1154.3 1751.3,1153.8 1753.4,1151.5 1756.2,1151.1 1759.0,1149.8 1762.0,1149.6 1764.6,1148.2 1765.5,1144.2 1769.1,1144.8 1771.9,1145.6 1773.7,1148.3 1776.6,1148.9 1779.4,1147.9 1782.3,1146.6 1784.4,1149.2 1786.6,1151.2 1789.5,1152.3 1792.1,1153.7 1793.8,1156.7 1797.0,1157.4 1799.9,1158.2 1802.7,1159.4 1805.1,1161.2 1807.3,1163.3 1809.3,1165.5 1811.1,1167.9 1813.3,1170.0 1815.9,1171.6 1817.8,1174.0 1820.6,1175.2 1822.5,1177.5 1825.0,1179.1 1827.3,1181.4 1830.5,1181.7 1833.3,1182.8 1835.8,1184.2 1838.6,1185.2 1841.6,1183.9 1844.6,1184.5 1847.6,1185.1 1850.4,1184.1 1853.0,1183.1 1855.3,1181.0 1858.0,1179.5 1860.5,1181.4 1862.5,1183.8 1865.8,1184.0 1868.5,1185.0 1871.3,1186.0 1873.8,1187.7 1877.5,1186.3 1879.1,1189.2 1881.6,1190.8 1883.8,1192.5 1886.6,1193.2 1889.7,1192.8 1892.1,1194.6 1894.7,1196.1 1897.5,1196.9 1900.6,1197.0 1903.5,1196.5 1906.5,1196.0 1909.4,1195.2 1912.3,1194.6 1915.1,1193.3 1918.2,1193.7 1921.3,1192.4 1923.9,1194.5 1927.0,1194.7 1929.3,1196.7 1931.1,1199.1 1933.1,1201.3 1935.6,1203.0 1937.4,1205.4 1940.2,1206.4 1943.5,1206.2 1945.4,1209.4 1948.5,1209.9 1950.7,1212.0 1952.1,1214.7 1954.4,1216.4 1956.5,1217.7 1959.3,1217.1 1961.9,1215.4 1964.7,1214.7 1967.6,1213.4 1969.5,1211.1 1972.4,1209.8 1973.3,1206.3 1975.7,1204.6 1978.9,1203.7 1980.0,1200.1 1983.1,1199.9 1985.9,1201.0 1988.9,1201.6 1991.5,1203.2 1993.8,1205.3 1996.7,1206.2 1999.3,1207.7 2001.9,1209.2 2005.0,1209.6 2007.0,1212.4 2009.7,1213.6 2012.5,1214.8 2016.1,1214.2 2018.5,1216.0 2021.2,1217.4 2023.7,1219.2 2027.0,1218.8 2029.6,1220.4 2032.6,1220.9 2035.4,1222.2 2038.1,1223.5 2041.2,1223.0 2044.1,1223.5 2047.2,1222.8 2050.1,1224.3 2052.9,1225.2 2056.0,1224.9 2059.1,1225.1 2061.8,1226.4 2064.7,1227.6 2067.7,1227.8 2070.7,1227.6 2072.2,1227.8"/>
<polyline class="c" stroke="#ff00ff" points="287.4,1375.6 290.1,1377.0 291.1,1380.5 294.6,1381.0 296.3,1383.7 298.5,1385.7 301.5,1386.8 303.7,1388.9 305.7,1391.1 307.9,1393.2 310.3,1395.0 312.1,1397.5 315.1,1398.6 316.8,1401.2 319.1,1403.2 320.8,1405.8 322.7,1408.1 325.1,1409.9 327.1,1412.1 330.3,1412.8 332.2,1415.3 334.2,1417.8 337.5,1418.1 339.7,1420.2 342.2,1421.9 344.8,1423.4 347.5,1424.8 348.7,1428.4 351.7,1429.7 354.9,1427.8 357.9,1428.4 360.9,1428.3 363.3,1430.2 365.9,1430.5 368.4,1431.1 370.7,1429.3 372.0,1426.1 374.7,1424.6 377.5,1425.4 380.4,1424.6 382.9,1426.2 384.9,1428.8 387.8,1429.7 390.4,1431.3 393.7,1431.2 396.4,1432.7 399.1,1433.8 401.8,1435.1 404.2,1434.5 407.1,1434.0 409.4,1432.1 411.8,1430.3 413.8,1427.8 417.3,1428.7 419.9,1427.4 423.0,1427.4 425.5,1425.2 427.9,1423.9 431.1,1423.4 433.5,1421.8 435.9,1422.5 438.9,1422.5 441.3,1424.8 444.4,1424.8 447.3,1424.8 450.4,1425.1 452.8,1422.5 456.0,1422.8 458.9,1422.7 461.9,1422.4 464.8,1423.5 467.8,1423.5 470.8,1423.3 473.7,1424.5 476.8,1423.6 479.4,1425.9 482.5,1426.1 484.5,1428.4 487.0,1430.2 489.5,1431.8 492.3,1432.1 495.2,1431.9 498.0,1430.8 500.8,1429.8 503.8,1428.9 506.8,1429.5 509.8,1429.3 512.8,1429.5 515.4,1428.1 517.2,1426.0 519.0,1423.6 521.9,1422.2 523.3,1419.4 526.0,1418.4 528.9,1418.7 531.9,1418.9 534.9,1419.8 537.2,1417.8 538.5,1415.0 541.7,1413.9 543.4,1411.4 545.7,1410.8 548.5,1410.7 551.3,1411.7 553.9,1412.9 556.5,1412.6 557.1,1409.5 559.6,1407.6 560.6,1404.6 563.2,1402.8 565.1,1400.8 567.7,1400.8 570.3,1398.8 573.4,1399.5 576.2,1397.8 579.2,1398.0 582.2,1397.5 585.3,1397.6 588.0,1396.2 591.0,1395.7 594.3,1395.7 596.4,1393.4 598.1,1390.8 600.5,1388.9 602.0,1386.2 602.2,1383.1 602.6,1380.0 604.0,1377.3 605.0,1374.5 606.7,1372.0 607.9,1369.2 608.3,1366.1 609.8,1363.5 611.2,1360.9 611.3,1357.6 613.9,1355.5 614.8,1352.6 617.1,1350.6 619.5,1348.9 622.0,1347.3 624.6,1345.7 626.2,1343.0 629.2,1341.8 631.4,1339.8 633.8,1338.1 635.7,1336.3 637.7,1338.0 640.2,1339.7 642.8,1341.2 644.5,1343.9 647.3,1345.1 649.6,1346.4 652.2,1346.6 654.3,1344.4 656.6,1343.8 658.6,1344.6 661.0,1346.3 663.8,1346.8 666.0,1346.6 668.0,1344.5 670.5,1342.8 672.5,1340.5 673.8,1337.7 673.3,1334.2 675.9,1332.1 677.6,1329.6 679.1,1327.0 680.0,1324.1 682.0,1321.8 684.2,1319.8 686.8,1318.1 689.4,1316.4 690.2,1313.2 692.7,1311.2 692.5,1307.7 694.6,1305.4 695.4,1302.5 697.0,1300.0 699.2,1300.5 702.1,1299.4 704.6,1301.1 707.8,1301.4 709.9,1304.1 712.6,1304.1 715.5,1303.5 717.2,1301.0 719.4,1299.1 721.7,1297.2 724.6,1296.1 727.8,1296.4 730.6,1295.2 733.6,1294.5 736.1,1292.8 738.1,1290.4 741.6,1290.2 743.5,1287.6 745.1,1285.0 746.2,1282.2 748.4,1280.1 748.8,1276.7 751.3,1275.0 754.0,1274.2 756.5,1272.6 758.5,1270.9 761.3,1269.5 763.4,1267.3 764.4,1264.3 766.7,1262.3 768.4,1259.8 770.7,1257.9 772.3,1255.2 775.1,1253.7 777.3,1251.7 778.2,1248.7 778.2,1245.6 780.2,1243.2 782.2,1240.7 781.8,1237.4 782.9,1234.6 784.9,1232.1 785.2,1229.0 786.7,1226.2 785.8,1223.0 787.2,1220.2 786.2,1216.9 789.1,1214.5 788.5,1211.3 789.8,1208.5 790.1,1205.5 791.9,1203.2 792.9,1200.2 795.5,1198.4 796.1,1195.1 798.7,1193.3 800.3,1190.7 802.9,1189.0 804.9,1186.8 806.8,1184.5 807.7,1181.5 810.3,1179.5 810.9,1176.4 813.7,1174.6 814.8,1171.8 815.3,1168.7 817.4,1166.3 818.6,1163.5 818.4,1160.3 820.7,1157.9 820.9,1154.8 822.3,1152.1 822.5,1149.0 824.4,1146.5 824.6,1143.4 825.4,1140.5 826.5,1137.7 826.7,1134.6 827.6,1131.8 828.5,1128.9 829.4,1126.0 829.3,1122.8 831.9,1120.6 833.5,1118.1 833.5,1114.7 834.5,1111.9 836.4,1109.5 839.0,1107.4 838.8,1104.0 840.2,1101.3 843.1,1099.3 843.3,1096.1 844.3,1093.3 845.8,1090.7 846.1,1087.6 847.5,1084.8 848.0,1081.9 848.8,1079.0 848.7,1075.9 850.3,1073.2 851.4,1070.4 851.9,1067.4 852.9,1064.6 853.7,1061.7 854.9,1058.9 856.0,1056.1 856.9,1053.3 858.0,1050.5 858.3,1047.4 859.1,1044.5 860.3,1041.6 863.1,1039.8 864.3,1037.0 867.0,1035.1 866.9,1031.9 868.7,1032.3 870.1,1034.5 872.5,1036.5 874.3,1038.9 875.5,1041.7 877.7,1043.8 879.1,1046.5 880.4,1049.0 882.2,1051.6 882.9,1054.4 884.8,1056.1 887.1,1057.3 889.7,1058.0 892.0,1059.8 893.9,1062.2 896.4,1063.9 897.8,1066.7 900.1,1068.7 901.7,1071.2 903.9,1072.6 906.0,1074.1 908.7,1072.7 911.3,1071.2 914.1,1070.4 915.5,1067.9 917.0,1065.1 916.2,1061.9 918.2,1059.2 918.3,1056.2 917.5,1053.0 918.8,1050.2 920.2,1047.4 920.0,1044.3 921.2,1041.6 923.1,1039.3 926.4,1037.9 927.0,1034.7 927.1,1031.7 928.4,1028.9 928.9,1025.9 928.0,1022.7 930.0,1020.0 930.4,1017.1 929.5,1013.9 929.9,1010.9 930.6,1008.0 931.6,1005.1 930.3,1001.8 931.5,999.0 932.6,996.1 933.6,993.3 934.3,990.3 935.6,987.5 935.4,984.4 935.0,981.3 935.9,978.4 935.9,975.4 937.1,972.6 936.9,969.5 938.6,966.7 939.5,963.9 939.9,960.9 939.5,957.7 940.6,954.9 941.6,952.0 942.6,949.2 941.8,946.0 942.6,943.1 942.6,940.0 944.1,937.2 944.5,934.3 945.5,931.4 946.1,928.4 946.2,925.4 945.3,922.2 947.5,919.6 947.6,916.5 948.1,913.6 949.5,910.8 948.7,907.6 949.9,904.7 950.6,901.8 950.3,898.7 951.3,895.9 952.7,893.1 953.1,890.1 951.1,886.7 952.7,883.9 954.1,881.1 953.6,878.0 955.2,875.2 954.7,872.1 955.6,869.2 955.7,866.2 956.8,863.3 957.6,860.4 958.0,857.5 959.1,854.7 958.7,851.4 960.2,848.8 959.8,845.5 961.7,842.9 963.9,840.8 964.9,837.9 966.8,835.7 968.7,833.3 971.3,832.4 973.4,833.4 974.1,836.3 976.0,838.6 977.1,841.3 977.4,844.3 977.8,847.3 978.3,850.3 980.5,852.9 979.0,856.3 981.6,858.8 981.6,861.8 982.5,864.7 982.5,867.8 983.2,870.7 984.5,873.5 984.6,876.6 986.2,879.2 985.7,882.4 986.4,885.4 988.0,888.1 988.1,891.1 989.0,894.0 988.3,897.2 990.2,899.9 991.4,902.7 991.6,905.7 992.8,908.5 992.6,911.6 992.1,915.0 994.6,917.2 997.2,919.0 998.6,921.7 1000.7,923.9 1002.0,926.6 1002.9,929.4 1004.1,932.2 1004.7,935.1 1005.6,938.0 1007.5,940.6 1008.0,943.5 1007.9,946.7 1008.0,949.7 1009.4,952.5 1008.8,955.8 1009.9,958.5 1012.3,961.0 1012.1,964.2 1012.6,967.2 1014.2,969.8 1016.4,972.3 1016.8,975.4 1016.1,978.5 1017.4,981.4 1018.4,984.3 1017.9,987.4 1017.6,990.4 1017.8,993.5 1018.6,996.4 1019.9,999.2 1019.7,1002.3 1020.6,1005.2 1021.0,1008.1 1020.5,1011.2 1022.6,1014.0 1023.4,1016.8 1023.1,1020.0 1024.3,1022.7 1024.7,1025.8 1026.4,1028.4 1027.7,1031.1 1028.7,1033.9 1028.5,1037.3 1031.5,1037.3 1034.4,1037.0 1036.6,1034.9 1038.4,1032.5 1041.7,1032.4 1041.4,1036.2 1043.7,1038.4 1044.4,1041.4 1046.3,1043.8 1048.1,1046.2 1049.8,1048.7 1051.3,1051.3 1051.5,1054.6 1053.6,1056.9 1056.7,1058.3 1057.6,1061.4 1059.5,1063.8 1060.8,1066.5 1061.8,1069.3 1063.3,1071.6 1065.4,1071.9 1068.3,1071.6 1071.3,1070.5 1072.7,1067.6 1073.5,1064.6 1075.5,1062.4 1076.4,1059.5 1078.3,1057.0 1081.4,1057.3 1084.1,1056.9 1084.8,1060.2 1088.1,1061.3 1089.8,1063.9 1091.7,1066.1 1093.2,1068.7 1096.0,1069.7 1098.1,1072.0 1101.0,1073.4 1101.3,1077.0 1103.6,1078.9 1105.2,1079.0 1107.4,1078.5 1108.2,1075.2 1111.2,1074.5 1113.6,1074.1 1115.6,1076.3 1118.8,1077.3 1120.7,1079.7 1121.6,1082.9 1122.8,1085.7 1125.1,1087.8 1126.7,1090.3 1128.1,1093.0 1130.6,1094.8 1133.1,1096.6 1134.6,1099.3 1137.1,1100.9 1139.7,1099.6 1142.1,1097.8 1145.2,1097.3 1147.4,1094.9 1150.3,1095.1 1153.0,1096.2 1154.6,1098.8 1156.8,1100.1 1159.2,1099.4 1161.9,1098.1 1164.1,1096.3 1166.9,1095.8 1169.9,1095.3 1171.8,1093.1 1174.1,1090.9 1173.6,1087.5 1175.0,1084.8 1175.8,1082.0 1177.6,1079.5 1178.9,1076.8 1179.7,1073.8 1181.6,1071.4 1183.4,1069.0 1184.0,1065.8 1186.9,1064.2 1187.4,1060.9 1189.9,1059.0 1191.4,1056.4 1193.8,1054.4 1195.3,1051.8 1196.9,1049.2 1200.6,1048.4 1201.1,1045.0 1203.2,1042.8 1204.6,1040.1 1205.5,1037.2 1208.1,1035.2 1208.5,1031.9 1210.5,1029.7 1213.1,1027.8 1214.3,1025.0 1215.8,1022.6 1218.1,1022.4 1220.6,1023.5 1223.3,1024.9 1224.4,1027.7 1226.7,1029.7 1228.6,1031.1 1231.2,1030.5 1233.8,1031.5 1236.1,1032.9 1238.0,1035.3 1238.4,1038.6 1240.5,1040.8 1241.7,1043.7 1244.7,1044.4 1247.7,1044.8 1250.3,1046.5 1253.2,1047.3 1256.1,1047.2 1259.1,1047.2 1262.0,1046.6 1264.7,1045.2 1267.3,1044.0 1270.2,1043.2 1273.0,1043.0 1275.0,1045.2 1275.6,1048.2 1277.2,1050.8 1278.6,1053.4 1279.7,1056.3 1281.4,1058.8 1284.4,1060.5 1284.4,1063.9 1287.4,1065.8 1288.1,1068.8 1289.8,1071.4 1290.8,1074.2 1289.7,1077.8 1292.3,1080.0 1291.6,1083.6 1294.1,1085.6 1296.3,1087.3 1299.1,1088.4 1300.8,1090.5 1302.9,1092.0 1304.6,1094.5 1305.9,1097.2 1308.0,1099.3 1310.2,1101.2 1312.6,1103.0 1313.8,1105.9 1315.5,1108.3 1317.1,1110.9 1317.5,1114.0 1318.3,1116.9 1318.6,1119.9 1320.5,1122.4 1321.9,1125.2 1322.0,1128.3 1323.7,1130.9 1324.1,1133.9 1322.8,1137.3 1324.9,1139.9 1324.4,1143.1 1326.5,1145.7 1327.1,1148.6 1327.5,1151.7 1329.2,1154.3 1330.1,1157.2 1330.3,1160.2 1331.4,1163.0 1332.1,1165.9 1332.2,1169.0 1333.3,1171.8 1334.1,1174.8 1336.0,1177.1 1338.7,1178.7 1341.4,1180.2 1343.3,1182.4 1345.4,1184.5 1347.8,1185.9 1350.3,1184.5 1352.8,1182.9 1355.1,1181.6 1357.0,1183.4 1358.9,1185.7 1359.8,1188.7 1362.4,1190.5 1364.7,1192.4 1366.7,1194.7 1368.8,1196.7 1371.3,1198.5 1372.9,1201.0 1374.1,1203.8 1375.5,1206.5 1376.1,1209.8 1379.9,1209.8 1382.2,1211.6 1384.9,1213.1 1387.8,1214.2 1390.9,1214.2 1393.8,1214.6 1397.0,1214.3 1399.7,1215.5 1402.5,1216.0 1405.3,1215.9 1408.4,1215.6 1410.6,1213.8 1413.7,1213.0 1415.6,1216.0 1418.5,1216.9 1421.5,1217.7 1424.3,1218.8 1426.9,1220.3 1429.2,1222.2 1432.5,1222.4 1434.8,1224.4 1437.2,1226.1 1439.7,1227.7 1442.0,1229.7 1442.7,1232.9 1445.3,1234.7 1447.1,1237.1 1449.5,1238.9 1451.2,1241.4 1453.4,1243.4 1455.5,1245.5 1458.5,1246.9 1460.3,1249.3 1461.1,1252.5 1464.6,1253.4 1465.5,1256.2 1468.2,1256.3 1470.9,1256.5 1473.7,1257.0 1475.2,1259.2 1477.4,1260.0 1479.8,1258.5 1482.5,1257.4 1485.2,1258.3 1487.8,1259.4 1490.3,1261.1 1493.1,1261.9 1495.6,1263.3 1497.5,1260.8 1500.5,1260.1 1502.7,1259.3 1503.3,1262.0 1506.4,1263.4 1508.5,1264.8 1510.7,1266.2 1513.7,1265.3 1516.7,1266.8 1519.6,1265.4 1522.6,1265.3 1525.3,1264.1 1528.5,1263.8 1530.8,1261.8 1533.3,1260.1 1535.3,1257.8 1538.2,1256.7 1540.6,1255.0 1542.9,1253.4 1545.8,1253.8 1548.4,1255.4 1551.4,1255.7 1553.5,1257.8 1555.1,1260.4 1557.9,1262.0 1561.1,1262.2 1563.9,1263.0 1566.9,1263.3 1568.9,1261.2 1570.8,1258.8 1573.9,1257.9 1576.1,1256.5 1578.7,1256.9 1581.7,1257.2 1584.5,1258.3 1586.8,1255.9 1589.8,1255.1 1592.6,1256.2 1594.9,1256.5 1597.5,1257.8 1600.3,1258.9 1602.6,1260.9 1605.3,1262.5 1606.4,1265.7 1608.9,1266.9 1611.5,1266.3 1614.5,1265.8 1616.8,1263.3 1619.5,1265.0 1621.9,1266.9 1624.8,1267.2 1627.4,1265.5 1630.5,1264.7 1633.3,1266.8 1635.7,1268.5 1639.0,1268.7 1641.0,1271.4 1644.0,1272.0 1646.9,1273.0 1649.3,1274.5 1652.0,1275.0 1655.0,1274.5 1657.8,1273.4 1660.8,1273.6 1663.6,1271.8 1666.4,1272.2 1668.7,1273.2 1669.8,1276.1 1671.6,1278.4 1674.2,1278.4 1676.8,1277.5 1679.5,1276.4 1682.5,1276.9 1685.3,1274.5 1688.3,1276.0 1691.3,1276.1 1694.2,1276.6 1697.2,1277.0 1700.0,1277.9 1702.6,1278.6 1705.0,1277.9 1707.2,1276.0 1710.0,1274.4 1709.6,1270.1 1712.7,1268.9 1714.8,1266.7 1716.7,1264.4 1718.5,1261.9 1720.5,1259.7 1722.5,1257.5 1724.1,1255.1 1726.4,1255.9 1729.4,1256.7 1731.7,1258.7 1733.1,1261.5 1734.0,1264.4 1735.8,1266.9 1737.2,1269.5 1738.6,1272.2 1740.0,1275.0 1743.0,1276.2 1745.0,1278.3 1747.3,1278.3 1749.5,1276.6 1752.1,1275.1 1753.6,1272.2 1756.2,1270.8 1759.3,1270.7 1761.8,1268.8 1764.7,1268.2 1767.4,1268.7 1769.6,1270.5 1772.5,1271.6 1775.1,1272.8 1777.8,1273.5 1780.7,1272.4 1783.6,1272.4 1786.2,1273.1 1789.0,1273.8 1791.2,1275.5 1793.7,1277.0 1795.2,1279.7 1797.8,1281.4 1800.0,1283.4 1802.7,1285.0 1804.3,1287.7 1806.0,1290.2 1808.4,1292.1 1810.4,1294.3 1810.9,1297.7 1814.1,1299.0 1816.0,1300.6 1818.1,1302.9 1821.1,1301.8 1824.4,1302.8 1826.3,1299.8 1828.8,1298.4 1831.2,1300.2 1834.0,1301.2 1837.0,1302.3 1838.8,1304.9 1840.9,1306.8 1843.0,1309.5 1845.7,1307.7 1848.1,1307.5 1850.5,1308.6 1853.2,1310.0 1855.8,1311.4 1858.7,1312.0 1861.7,1312.2 1864.2,1310.9 1866.1,1308.8 1867.7,1306.2 1869.6,1303.8 1872.2,1303.0 1874.9,1303.1 1876.7,1305.1 1878.9,1307.0 1880.6,1309.5 1882.0,1312.0 1884.3,1313.7 1887.1,1314.6 1890.0,1315.7 1893.0,1315.2 1895.8,1313.7 1898.8,1314.7 1900.9,1316.8 1903.8,1317.9 1905.4,1320.7 1908.4,1321.5 1911.2,1322.5 1914.3,1322.6 1916.8,1324.3 1918.8,1326.4 1921.5,1327.9 1924.0,1329.5 1926.2,1331.5 1929.0,1330.4 1931.2,1328.1 1934.4,1327.9 1936.8,1326.1 1939.8,1326.0 1942.8,1326.2 1945.9,1326.7 1948.4,1324.7 1951.1,1323.4 1953.7,1322.0 1956.4,1322.4 1959.5,1321.8 1961.2,1324.6 1963.6,1326.4 1967.1,1326.6 1968.3,1330.3 1972.2,1329.5 1974.3,1331.9 1977.1,1332.3 1979.9,1333.3 1982.9,1333.9 1985.9,1334.1 1988.9,1334.2 1991.7,1332.5 1994.8,1334.1 1997.5,1333.8 2000.0,1335.3 2002.6,1336.9 2004.9,1338.7 2006.4,1341.9 2009.7,1341.5 2012.7,1342.3 2015.6,1341.2 2018.6,1340.6 2020.9,1338.6 2023.5,1337.1 2026.2,1338.1 2028.2,1340.2 2029.5,1343.1 2032.3,1342.4 2035.1,1342.0 2038.1,1342.1 2040.7,1341.7 2042.8,1343.7 2044.3,1346.6 2047.5,1347.5 2050.6,1347.4 2053.3,1348.7 2056.3,1348.8 2059.2,1350.0 2062.2,1349.9 2065.2,1349.0 2068.2,1349.1 2070.8,1347.0 2073.9,1347.1 2074.3,1347.1"/>
</g>
<g id="frame" fill="#000">
<rect x="235" y="59" width="8" height="1408"/>
<rect x="239" y="56" width="1883" height="8"/>
<rect x="2117" y="59" width="8" height="1408"/>
<rect x="239" y="1460" width="1883" height="8"/>
<rect x="380" y="1466" width="8" height="24"/>
<rect x="621" y="1466" width="8" height="24"/>
<rect x="863" y="1466" width="8" height="24"/>
<rect x="1104" y="1466" width="8" height="24"/>
<rect x="1345" y="1466" width="8" height="24"/>
<rect x="1586" y="1466" width="8" height="24"/>
<rect x="1828" y="1466" width="8" height="24"/>
<rect x="2069" y="1466" width="8" height="24"/>
<rect x="259" y="1466" width="8" height="12"/>
<rect x="501" y="1466" width="8" height="12"/>
<rect x="742" y="1466" width="8" height="12"/>
<rect x="983" y="1466" width="8" height="12"/>
<rect x="1224" y="1466" width="8" height="12"/>
<rect x="1466" y="1466" width="8" height="12"/>
<rect x="1707" y="1466" width="8" height="12"/>
<rect x="1948" y="1466" width="8" height="12"/>
</g>
<g id="ticklabels" class="b" font-size="72" text-anchor="middle">
<text x="384.0" y="1563">5</text>
<text x="625.3" y="1563">10</text>
<text x="866.6" y="1563">15</text>
<text x="1107.9" y="1563">20</text>
<text x="1349.1" y="1563">25</text>
<text x="1590.4" y="1563">30</text>
<text x="1831.7" y="1563">35</text>
<text x="2073.0" y="1563">40</text>
</g>
<text id="xt" class="b" font-size="77" x="872" y="1697">Diffraction angle (2θ)</text>
<text id="yt" class="b" font-size="76" transform="translate(126.5,1034) rotate(-90)">Diffraction intensity</text>
<text id="l0" class="r" font-size="72.5" x="2135.3" y="736">NS</text>
<text id="l1" class="r" font-size="72" x="2138.3" y="856">ACS<tspan font-size="67" x="2274.5" y="852.5">−</tspan><tspan x="2310.3" y="856">1</tspan></text>
<text id="l2" class="r" font-size="72" x="2134.2" y="968">ACS<tspan font-size="67" x="2270.3" y="964.5">−</tspan><tspan x="2306.7" y="968">2</tspan></text>
<text id="l3" class="r" font-size="72" x="2136.2" y="1078">ACS<tspan font-size="67" x="2272.3" y="1074.5">−</tspan><tspan x="2307.2" y="1078">3</tspan></text>
<text id="l4" class="r" font-size="72" x="2142.5" y="1186">PCS<tspan font-size="67" x="2266.7" y="1182.5">−</tspan><tspan x="2302.5" y="1186">1</tspan></text>
<text id="l5" class="r" font-size="72" x="2140.8" y="1283">PCS<tspan font-size="67" x="2265.0" y="1279.5">−</tspan><tspan x="2301.3" y="1283">2</tspan></text>
<text id="l6" class="r" font-size="72" x="2140.8" y="1375.5">PCS<tspan font-size="67" x="2264.5" y="1372.0">−</tspan><tspan x="2301.8" y="1375.5">3</tspan></text>
<text id="a0" class="b" font-size="72" x="347.7" y="727">B-type</text>
<text id="a1" class="b" font-size="72" x="1011" y="143.7">A-type</text>
<text id="a2" class="b" font-size="72" x="1200.3" y="290.8">A-type</text>
<g id="arrows" stroke="#000" stroke-width="2.7" fill="#000">
<line x1="418.6" y1="739" x2="419.6" y2="771"/><polygon points="409.9,769.2 429,769.2 420.3,804" stroke="none"/>
<line x1="1010.7" y1="137.5" x2="1006" y2="187"/><polygon points="996,184.1 1015.9,186.2 1001.5,219.8" stroke="none"/>
<line x1="1253.6" y1="289" x2="1254.6" y2="321"/><polygon points="1244.8,319 1264.1,319 1255.7,354" stroke="none"/>
</g>
</svg></body></html>
